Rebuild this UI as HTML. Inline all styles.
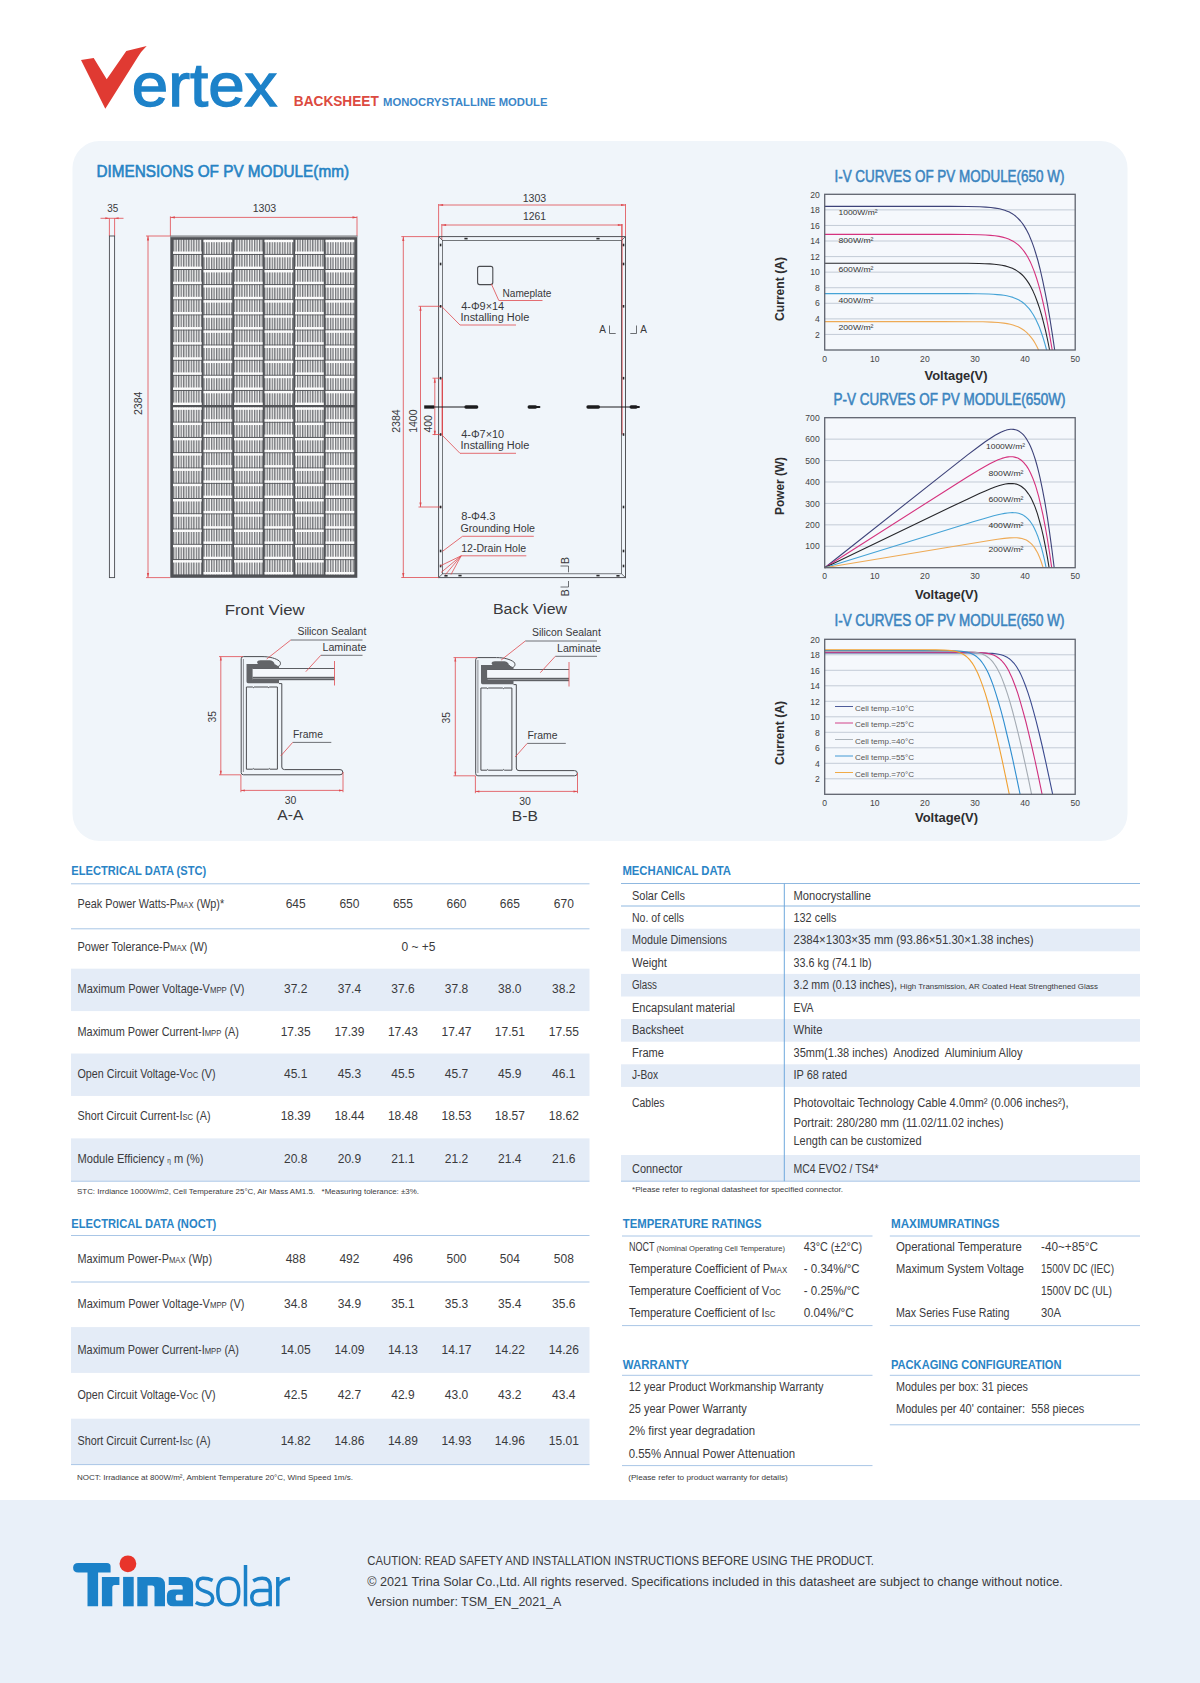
<!DOCTYPE html>
<html lang="en">
<head>
<meta charset="utf-8">
<title>Vertex Backsheet Monocrystalline Module</title>
<style>
html,body{margin:0;padding:0;background:#fff;}
body{width:1200px;height:1683px;overflow:hidden;font-family:"Liberation Sans",sans-serif;}
svg{display:block;font-family:"Liberation Sans",sans-serif;}
svg text{white-space:pre;}
</style>
</head>
<body>
<svg width="1200" height="1683" viewBox="0 0 1200 1683" font-family="Liberation Sans, sans-serif" font-size="12" fill="#3a3a3c">
<path d="M81,60 L93.7,57.9 L106.7,79.3 L126.3,51 L146.7,46.1 Q141,51.5 137.7,57.3 L105.3,108.7 Z" fill="#e03a32"/>
<text x="131.8" y="106.4" font-size="61" fill="#1d82c9" textLength="145.5" lengthAdjust="spacingAndGlyphs" stroke="#1d82c9" stroke-width="1.3">ertex</text>
<text x="293.8" y="105.8" font-size="14.5" font-weight="bold" fill="#dc4a40" textLength="85" lengthAdjust="spacingAndGlyphs">BACKSHEET</text>
<text x="383" y="105.8" font-size="11.8" font-weight="bold" fill="#3b86c8" textLength="164.5" lengthAdjust="spacingAndGlyphs">MONOCRYSTALLINE MODULE</text>
<rect x="72.5" y="141" width="1055" height="700" rx="27" ry="27" fill="#f0f5fa"/>
<text x="96.5" y="176.8" font-size="16.4" fill="#2683c4" textLength="252.5" lengthAdjust="spacingAndGlyphs" stroke="#2683c4" stroke-width="0.6">DIMENSIONS OF PV MODULE(mm)</text>
<text x="112.7" y="212.1" font-size="10" fill="#38383a" text-anchor="middle" textLength="11" lengthAdjust="spacingAndGlyphs">35</text>
<line x1="100.5" y1="218.3" x2="123.5" y2="218.3" stroke="#df4a4f" stroke-width="0.8" />
<polygon points="109.3,218.3 105.3,217.3 105.3,219.3" fill="#df4a4f"/><polygon points="114.6,218.3 118.6,217.3 118.6,219.3" fill="#df4a4f"/><line x1="109.4" y1="218.3" x2="109.4" y2="236" stroke="#df4a4f" stroke-width="0.8" />
<line x1="114.6" y1="218.3" x2="114.6" y2="236" stroke="#df4a4f" stroke-width="0.8" />
<rect x="109.4" y="236" width="5.2" height="341.6" fill="#f4f7fb" stroke="#4a4c50" stroke-width="0.9"/>
<text x="264.5" y="212.1" font-size="10" fill="#38383a" text-anchor="middle" textLength="23.5" lengthAdjust="spacingAndGlyphs">1303</text>
<line x1="170.4" y1="217.4" x2="357" y2="217.4" stroke="#df4a4f" stroke-width="0.8" />
<polygon points="170.4,217.4 174.9,216.3 174.9,218.5" fill="#df4a4f"/><polygon points="357,217.4 352.5,216.3 352.5,218.5" fill="#df4a4f"/>
<line x1="170.4" y1="216.4" x2="170.4" y2="236" stroke="#df4a4f" stroke-width="0.8" />
<line x1="357" y1="216.4" x2="357" y2="236" stroke="#df4a4f" stroke-width="0.8" />
<line x1="148" y1="236" x2="148" y2="577.6" stroke="#df4a4f" stroke-width="0.8" />
<polygon points="148,236 146.9,240.5 149.1,240.5" fill="#df4a4f"/><polygon points="148,577.6 146.9,573.1 149.1,573.1" fill="#df4a4f"/>
<line x1="146" y1="236" x2="170.3" y2="236" stroke="#df4a4f" stroke-width="0.8" />
<line x1="146" y1="577.6" x2="170.3" y2="577.6" stroke="#df4a4f" stroke-width="0.8" />
<text transform="translate(141.9,403.3) rotate(-90)" font-size="11.2" text-anchor="middle" fill="#38383a" textLength="23.5" lengthAdjust="spacingAndGlyphs">2384</text>
<defs><pattern id="hatch" x="173" y="0" width="2.53" height="10" patternUnits="userSpaceOnUse"><rect width="2.53" height="10" fill="#f6f6f6"/><rect x="0" width="1.3" height="10" fill="#727478"/></pattern></defs>
<rect x="170.3" y="235.7" width="187" height="342.1" fill="#505256" />
<rect x="170.3" y="235.7" width="187" height="1.6" fill="#9b9da0" />
<rect x="173.00" y="239.80" width="28.70" height="14.11" fill="url(#hatch)"/><rect x="173.00" y="251.51" width="28.70" height="2.4" fill="#fbfbfb"/><rect x="173.00" y="254.91" width="28.70" height="14.11" fill="url(#hatch)"/><rect x="173.00" y="266.62" width="28.70" height="2.4" fill="#fbfbfb"/><rect x="173.00" y="270.02" width="28.70" height="14.11" fill="url(#hatch)"/><rect x="173.00" y="281.73" width="28.70" height="2.4" fill="#fbfbfb"/><rect x="173.00" y="285.13" width="28.70" height="14.11" fill="url(#hatch)"/><rect x="173.00" y="296.84" width="28.70" height="2.4" fill="#fbfbfb"/><rect x="173.00" y="300.24" width="28.70" height="14.11" fill="url(#hatch)"/><rect x="173.00" y="311.95" width="28.70" height="2.4" fill="#fbfbfb"/><rect x="173.00" y="315.35" width="28.70" height="14.11" fill="url(#hatch)"/><rect x="173.00" y="327.05" width="28.70" height="2.4" fill="#fbfbfb"/><rect x="173.00" y="330.45" width="28.70" height="14.11" fill="url(#hatch)"/><rect x="173.00" y="342.16" width="28.70" height="2.4" fill="#fbfbfb"/><rect x="173.00" y="345.56" width="28.70" height="14.11" fill="url(#hatch)"/><rect x="173.00" y="357.27" width="28.70" height="2.4" fill="#fbfbfb"/><rect x="173.00" y="360.67" width="28.70" height="14.11" fill="url(#hatch)"/><rect x="173.00" y="372.38" width="28.70" height="2.4" fill="#fbfbfb"/><rect x="173.00" y="375.78" width="28.70" height="14.11" fill="url(#hatch)"/><rect x="173.00" y="387.49" width="28.70" height="2.4" fill="#fbfbfb"/><rect x="173.00" y="390.89" width="28.70" height="14.11" fill="url(#hatch)"/><rect x="173.00" y="402.60" width="28.70" height="2.4" fill="#fbfbfb"/><rect x="173.00" y="407.40" width="28.70" height="14.27" fill="url(#hatch)"/><rect x="173.00" y="407.40" width="28.70" height="2.4" fill="#fbfbfb"/><rect x="173.00" y="422.67" width="28.70" height="14.27" fill="url(#hatch)"/><rect x="173.00" y="422.67" width="28.70" height="2.4" fill="#fbfbfb"/><rect x="173.00" y="437.95" width="28.70" height="14.27" fill="url(#hatch)"/><rect x="173.00" y="437.95" width="28.70" height="2.4" fill="#fbfbfb"/><rect x="173.00" y="453.22" width="28.70" height="14.27" fill="url(#hatch)"/><rect x="173.00" y="453.22" width="28.70" height="2.4" fill="#fbfbfb"/><rect x="173.00" y="468.49" width="28.70" height="14.27" fill="url(#hatch)"/><rect x="173.00" y="468.49" width="28.70" height="2.4" fill="#fbfbfb"/><rect x="173.00" y="483.76" width="28.70" height="14.27" fill="url(#hatch)"/><rect x="173.00" y="483.76" width="28.70" height="2.4" fill="#fbfbfb"/><rect x="173.00" y="499.04" width="28.70" height="14.27" fill="url(#hatch)"/><rect x="173.00" y="499.04" width="28.70" height="2.4" fill="#fbfbfb"/><rect x="173.00" y="514.31" width="28.70" height="14.27" fill="url(#hatch)"/><rect x="173.00" y="514.31" width="28.70" height="2.4" fill="#fbfbfb"/><rect x="173.00" y="529.58" width="28.70" height="14.27" fill="url(#hatch)"/><rect x="173.00" y="529.58" width="28.70" height="2.4" fill="#fbfbfb"/><rect x="173.00" y="544.85" width="28.70" height="14.27" fill="url(#hatch)"/><rect x="173.00" y="544.85" width="28.70" height="2.4" fill="#fbfbfb"/><rect x="173.00" y="560.13" width="28.70" height="14.27" fill="url(#hatch)"/><rect x="173.00" y="560.13" width="28.70" height="2.4" fill="#fbfbfb"/>
<rect x="203.50" y="239.80" width="28.70" height="14.11" fill="url(#hatch)"/><rect x="203.50" y="239.80" width="28.70" height="2.4" fill="#fbfbfb"/><rect x="203.50" y="254.91" width="28.70" height="14.11" fill="url(#hatch)"/><rect x="203.50" y="254.91" width="28.70" height="2.4" fill="#fbfbfb"/><rect x="203.50" y="270.02" width="28.70" height="14.11" fill="url(#hatch)"/><rect x="203.50" y="270.02" width="28.70" height="2.4" fill="#fbfbfb"/><rect x="203.50" y="285.13" width="28.70" height="14.11" fill="url(#hatch)"/><rect x="203.50" y="285.13" width="28.70" height="2.4" fill="#fbfbfb"/><rect x="203.50" y="300.24" width="28.70" height="14.11" fill="url(#hatch)"/><rect x="203.50" y="300.24" width="28.70" height="2.4" fill="#fbfbfb"/><rect x="203.50" y="315.35" width="28.70" height="14.11" fill="url(#hatch)"/><rect x="203.50" y="315.35" width="28.70" height="2.4" fill="#fbfbfb"/><rect x="203.50" y="330.45" width="28.70" height="14.11" fill="url(#hatch)"/><rect x="203.50" y="330.45" width="28.70" height="2.4" fill="#fbfbfb"/><rect x="203.50" y="345.56" width="28.70" height="14.11" fill="url(#hatch)"/><rect x="203.50" y="345.56" width="28.70" height="2.4" fill="#fbfbfb"/><rect x="203.50" y="360.67" width="28.70" height="14.11" fill="url(#hatch)"/><rect x="203.50" y="360.67" width="28.70" height="2.4" fill="#fbfbfb"/><rect x="203.50" y="375.78" width="28.70" height="14.11" fill="url(#hatch)"/><rect x="203.50" y="375.78" width="28.70" height="2.4" fill="#fbfbfb"/><rect x="203.50" y="390.89" width="28.70" height="14.11" fill="url(#hatch)"/><rect x="203.50" y="390.89" width="28.70" height="2.4" fill="#fbfbfb"/><rect x="203.50" y="407.40" width="28.70" height="14.27" fill="url(#hatch)"/><rect x="203.50" y="419.27" width="28.70" height="2.4" fill="#fbfbfb"/><rect x="203.50" y="422.67" width="28.70" height="14.27" fill="url(#hatch)"/><rect x="203.50" y="434.55" width="28.70" height="2.4" fill="#fbfbfb"/><rect x="203.50" y="437.95" width="28.70" height="14.27" fill="url(#hatch)"/><rect x="203.50" y="449.82" width="28.70" height="2.4" fill="#fbfbfb"/><rect x="203.50" y="453.22" width="28.70" height="14.27" fill="url(#hatch)"/><rect x="203.50" y="465.09" width="28.70" height="2.4" fill="#fbfbfb"/><rect x="203.50" y="468.49" width="28.70" height="14.27" fill="url(#hatch)"/><rect x="203.50" y="480.36" width="28.70" height="2.4" fill="#fbfbfb"/><rect x="203.50" y="483.76" width="28.70" height="14.27" fill="url(#hatch)"/><rect x="203.50" y="495.64" width="28.70" height="2.4" fill="#fbfbfb"/><rect x="203.50" y="499.04" width="28.70" height="14.27" fill="url(#hatch)"/><rect x="203.50" y="510.91" width="28.70" height="2.4" fill="#fbfbfb"/><rect x="203.50" y="514.31" width="28.70" height="14.27" fill="url(#hatch)"/><rect x="203.50" y="526.18" width="28.70" height="2.4" fill="#fbfbfb"/><rect x="203.50" y="529.58" width="28.70" height="14.27" fill="url(#hatch)"/><rect x="203.50" y="541.45" width="28.70" height="2.4" fill="#fbfbfb"/><rect x="203.50" y="544.85" width="28.70" height="14.27" fill="url(#hatch)"/><rect x="203.50" y="556.73" width="28.70" height="2.4" fill="#fbfbfb"/><rect x="203.50" y="560.13" width="28.70" height="14.27" fill="url(#hatch)"/><rect x="203.50" y="572.00" width="28.70" height="2.4" fill="#fbfbfb"/>
<rect x="234.00" y="239.80" width="28.70" height="14.11" fill="url(#hatch)"/><rect x="234.00" y="251.51" width="28.70" height="2.4" fill="#fbfbfb"/><rect x="234.00" y="254.91" width="28.70" height="14.11" fill="url(#hatch)"/><rect x="234.00" y="266.62" width="28.70" height="2.4" fill="#fbfbfb"/><rect x="234.00" y="270.02" width="28.70" height="14.11" fill="url(#hatch)"/><rect x="234.00" y="281.73" width="28.70" height="2.4" fill="#fbfbfb"/><rect x="234.00" y="285.13" width="28.70" height="14.11" fill="url(#hatch)"/><rect x="234.00" y="296.84" width="28.70" height="2.4" fill="#fbfbfb"/><rect x="234.00" y="300.24" width="28.70" height="14.11" fill="url(#hatch)"/><rect x="234.00" y="311.95" width="28.70" height="2.4" fill="#fbfbfb"/><rect x="234.00" y="315.35" width="28.70" height="14.11" fill="url(#hatch)"/><rect x="234.00" y="327.05" width="28.70" height="2.4" fill="#fbfbfb"/><rect x="234.00" y="330.45" width="28.70" height="14.11" fill="url(#hatch)"/><rect x="234.00" y="342.16" width="28.70" height="2.4" fill="#fbfbfb"/><rect x="234.00" y="345.56" width="28.70" height="14.11" fill="url(#hatch)"/><rect x="234.00" y="357.27" width="28.70" height="2.4" fill="#fbfbfb"/><rect x="234.00" y="360.67" width="28.70" height="14.11" fill="url(#hatch)"/><rect x="234.00" y="372.38" width="28.70" height="2.4" fill="#fbfbfb"/><rect x="234.00" y="375.78" width="28.70" height="14.11" fill="url(#hatch)"/><rect x="234.00" y="387.49" width="28.70" height="2.4" fill="#fbfbfb"/><rect x="234.00" y="390.89" width="28.70" height="14.11" fill="url(#hatch)"/><rect x="234.00" y="402.60" width="28.70" height="2.4" fill="#fbfbfb"/><rect x="234.00" y="407.40" width="28.70" height="14.27" fill="url(#hatch)"/><rect x="234.00" y="407.40" width="28.70" height="2.4" fill="#fbfbfb"/><rect x="234.00" y="422.67" width="28.70" height="14.27" fill="url(#hatch)"/><rect x="234.00" y="422.67" width="28.70" height="2.4" fill="#fbfbfb"/><rect x="234.00" y="437.95" width="28.70" height="14.27" fill="url(#hatch)"/><rect x="234.00" y="437.95" width="28.70" height="2.4" fill="#fbfbfb"/><rect x="234.00" y="453.22" width="28.70" height="14.27" fill="url(#hatch)"/><rect x="234.00" y="453.22" width="28.70" height="2.4" fill="#fbfbfb"/><rect x="234.00" y="468.49" width="28.70" height="14.27" fill="url(#hatch)"/><rect x="234.00" y="468.49" width="28.70" height="2.4" fill="#fbfbfb"/><rect x="234.00" y="483.76" width="28.70" height="14.27" fill="url(#hatch)"/><rect x="234.00" y="483.76" width="28.70" height="2.4" fill="#fbfbfb"/><rect x="234.00" y="499.04" width="28.70" height="14.27" fill="url(#hatch)"/><rect x="234.00" y="499.04" width="28.70" height="2.4" fill="#fbfbfb"/><rect x="234.00" y="514.31" width="28.70" height="14.27" fill="url(#hatch)"/><rect x="234.00" y="514.31" width="28.70" height="2.4" fill="#fbfbfb"/><rect x="234.00" y="529.58" width="28.70" height="14.27" fill="url(#hatch)"/><rect x="234.00" y="529.58" width="28.70" height="2.4" fill="#fbfbfb"/><rect x="234.00" y="544.85" width="28.70" height="14.27" fill="url(#hatch)"/><rect x="234.00" y="544.85" width="28.70" height="2.4" fill="#fbfbfb"/><rect x="234.00" y="560.13" width="28.70" height="14.27" fill="url(#hatch)"/><rect x="234.00" y="560.13" width="28.70" height="2.4" fill="#fbfbfb"/>
<rect x="264.50" y="239.80" width="28.70" height="14.11" fill="url(#hatch)"/><rect x="264.50" y="239.80" width="28.70" height="2.4" fill="#fbfbfb"/><rect x="264.50" y="254.91" width="28.70" height="14.11" fill="url(#hatch)"/><rect x="264.50" y="254.91" width="28.70" height="2.4" fill="#fbfbfb"/><rect x="264.50" y="270.02" width="28.70" height="14.11" fill="url(#hatch)"/><rect x="264.50" y="270.02" width="28.70" height="2.4" fill="#fbfbfb"/><rect x="264.50" y="285.13" width="28.70" height="14.11" fill="url(#hatch)"/><rect x="264.50" y="285.13" width="28.70" height="2.4" fill="#fbfbfb"/><rect x="264.50" y="300.24" width="28.70" height="14.11" fill="url(#hatch)"/><rect x="264.50" y="300.24" width="28.70" height="2.4" fill="#fbfbfb"/><rect x="264.50" y="315.35" width="28.70" height="14.11" fill="url(#hatch)"/><rect x="264.50" y="315.35" width="28.70" height="2.4" fill="#fbfbfb"/><rect x="264.50" y="330.45" width="28.70" height="14.11" fill="url(#hatch)"/><rect x="264.50" y="330.45" width="28.70" height="2.4" fill="#fbfbfb"/><rect x="264.50" y="345.56" width="28.70" height="14.11" fill="url(#hatch)"/><rect x="264.50" y="345.56" width="28.70" height="2.4" fill="#fbfbfb"/><rect x="264.50" y="360.67" width="28.70" height="14.11" fill="url(#hatch)"/><rect x="264.50" y="360.67" width="28.70" height="2.4" fill="#fbfbfb"/><rect x="264.50" y="375.78" width="28.70" height="14.11" fill="url(#hatch)"/><rect x="264.50" y="375.78" width="28.70" height="2.4" fill="#fbfbfb"/><rect x="264.50" y="390.89" width="28.70" height="14.11" fill="url(#hatch)"/><rect x="264.50" y="390.89" width="28.70" height="2.4" fill="#fbfbfb"/><rect x="264.50" y="407.40" width="28.70" height="14.27" fill="url(#hatch)"/><rect x="264.50" y="419.27" width="28.70" height="2.4" fill="#fbfbfb"/><rect x="264.50" y="422.67" width="28.70" height="14.27" fill="url(#hatch)"/><rect x="264.50" y="434.55" width="28.70" height="2.4" fill="#fbfbfb"/><rect x="264.50" y="437.95" width="28.70" height="14.27" fill="url(#hatch)"/><rect x="264.50" y="449.82" width="28.70" height="2.4" fill="#fbfbfb"/><rect x="264.50" y="453.22" width="28.70" height="14.27" fill="url(#hatch)"/><rect x="264.50" y="465.09" width="28.70" height="2.4" fill="#fbfbfb"/><rect x="264.50" y="468.49" width="28.70" height="14.27" fill="url(#hatch)"/><rect x="264.50" y="480.36" width="28.70" height="2.4" fill="#fbfbfb"/><rect x="264.50" y="483.76" width="28.70" height="14.27" fill="url(#hatch)"/><rect x="264.50" y="495.64" width="28.70" height="2.4" fill="#fbfbfb"/><rect x="264.50" y="499.04" width="28.70" height="14.27" fill="url(#hatch)"/><rect x="264.50" y="510.91" width="28.70" height="2.4" fill="#fbfbfb"/><rect x="264.50" y="514.31" width="28.70" height="14.27" fill="url(#hatch)"/><rect x="264.50" y="526.18" width="28.70" height="2.4" fill="#fbfbfb"/><rect x="264.50" y="529.58" width="28.70" height="14.27" fill="url(#hatch)"/><rect x="264.50" y="541.45" width="28.70" height="2.4" fill="#fbfbfb"/><rect x="264.50" y="544.85" width="28.70" height="14.27" fill="url(#hatch)"/><rect x="264.50" y="556.73" width="28.70" height="2.4" fill="#fbfbfb"/><rect x="264.50" y="560.13" width="28.70" height="14.27" fill="url(#hatch)"/><rect x="264.50" y="572.00" width="28.70" height="2.4" fill="#fbfbfb"/>
<rect x="295.00" y="239.80" width="28.70" height="14.11" fill="url(#hatch)"/><rect x="295.00" y="251.51" width="28.70" height="2.4" fill="#fbfbfb"/><rect x="295.00" y="254.91" width="28.70" height="14.11" fill="url(#hatch)"/><rect x="295.00" y="266.62" width="28.70" height="2.4" fill="#fbfbfb"/><rect x="295.00" y="270.02" width="28.70" height="14.11" fill="url(#hatch)"/><rect x="295.00" y="281.73" width="28.70" height="2.4" fill="#fbfbfb"/><rect x="295.00" y="285.13" width="28.70" height="14.11" fill="url(#hatch)"/><rect x="295.00" y="296.84" width="28.70" height="2.4" fill="#fbfbfb"/><rect x="295.00" y="300.24" width="28.70" height="14.11" fill="url(#hatch)"/><rect x="295.00" y="311.95" width="28.70" height="2.4" fill="#fbfbfb"/><rect x="295.00" y="315.35" width="28.70" height="14.11" fill="url(#hatch)"/><rect x="295.00" y="327.05" width="28.70" height="2.4" fill="#fbfbfb"/><rect x="295.00" y="330.45" width="28.70" height="14.11" fill="url(#hatch)"/><rect x="295.00" y="342.16" width="28.70" height="2.4" fill="#fbfbfb"/><rect x="295.00" y="345.56" width="28.70" height="14.11" fill="url(#hatch)"/><rect x="295.00" y="357.27" width="28.70" height="2.4" fill="#fbfbfb"/><rect x="295.00" y="360.67" width="28.70" height="14.11" fill="url(#hatch)"/><rect x="295.00" y="372.38" width="28.70" height="2.4" fill="#fbfbfb"/><rect x="295.00" y="375.78" width="28.70" height="14.11" fill="url(#hatch)"/><rect x="295.00" y="387.49" width="28.70" height="2.4" fill="#fbfbfb"/><rect x="295.00" y="390.89" width="28.70" height="14.11" fill="url(#hatch)"/><rect x="295.00" y="402.60" width="28.70" height="2.4" fill="#fbfbfb"/><rect x="295.00" y="407.40" width="28.70" height="14.27" fill="url(#hatch)"/><rect x="295.00" y="407.40" width="28.70" height="2.4" fill="#fbfbfb"/><rect x="295.00" y="422.67" width="28.70" height="14.27" fill="url(#hatch)"/><rect x="295.00" y="422.67" width="28.70" height="2.4" fill="#fbfbfb"/><rect x="295.00" y="437.95" width="28.70" height="14.27" fill="url(#hatch)"/><rect x="295.00" y="437.95" width="28.70" height="2.4" fill="#fbfbfb"/><rect x="295.00" y="453.22" width="28.70" height="14.27" fill="url(#hatch)"/><rect x="295.00" y="453.22" width="28.70" height="2.4" fill="#fbfbfb"/><rect x="295.00" y="468.49" width="28.70" height="14.27" fill="url(#hatch)"/><rect x="295.00" y="468.49" width="28.70" height="2.4" fill="#fbfbfb"/><rect x="295.00" y="483.76" width="28.70" height="14.27" fill="url(#hatch)"/><rect x="295.00" y="483.76" width="28.70" height="2.4" fill="#fbfbfb"/><rect x="295.00" y="499.04" width="28.70" height="14.27" fill="url(#hatch)"/><rect x="295.00" y="499.04" width="28.70" height="2.4" fill="#fbfbfb"/><rect x="295.00" y="514.31" width="28.70" height="14.27" fill="url(#hatch)"/><rect x="295.00" y="514.31" width="28.70" height="2.4" fill="#fbfbfb"/><rect x="295.00" y="529.58" width="28.70" height="14.27" fill="url(#hatch)"/><rect x="295.00" y="529.58" width="28.70" height="2.4" fill="#fbfbfb"/><rect x="295.00" y="544.85" width="28.70" height="14.27" fill="url(#hatch)"/><rect x="295.00" y="544.85" width="28.70" height="2.4" fill="#fbfbfb"/><rect x="295.00" y="560.13" width="28.70" height="14.27" fill="url(#hatch)"/><rect x="295.00" y="560.13" width="28.70" height="2.4" fill="#fbfbfb"/>
<rect x="325.50" y="239.80" width="28.70" height="14.11" fill="url(#hatch)"/><rect x="325.50" y="239.80" width="28.70" height="2.4" fill="#fbfbfb"/><rect x="325.50" y="254.91" width="28.70" height="14.11" fill="url(#hatch)"/><rect x="325.50" y="254.91" width="28.70" height="2.4" fill="#fbfbfb"/><rect x="325.50" y="270.02" width="28.70" height="14.11" fill="url(#hatch)"/><rect x="325.50" y="270.02" width="28.70" height="2.4" fill="#fbfbfb"/><rect x="325.50" y="285.13" width="28.70" height="14.11" fill="url(#hatch)"/><rect x="325.50" y="285.13" width="28.70" height="2.4" fill="#fbfbfb"/><rect x="325.50" y="300.24" width="28.70" height="14.11" fill="url(#hatch)"/><rect x="325.50" y="300.24" width="28.70" height="2.4" fill="#fbfbfb"/><rect x="325.50" y="315.35" width="28.70" height="14.11" fill="url(#hatch)"/><rect x="325.50" y="315.35" width="28.70" height="2.4" fill="#fbfbfb"/><rect x="325.50" y="330.45" width="28.70" height="14.11" fill="url(#hatch)"/><rect x="325.50" y="330.45" width="28.70" height="2.4" fill="#fbfbfb"/><rect x="325.50" y="345.56" width="28.70" height="14.11" fill="url(#hatch)"/><rect x="325.50" y="345.56" width="28.70" height="2.4" fill="#fbfbfb"/><rect x="325.50" y="360.67" width="28.70" height="14.11" fill="url(#hatch)"/><rect x="325.50" y="360.67" width="28.70" height="2.4" fill="#fbfbfb"/><rect x="325.50" y="375.78" width="28.70" height="14.11" fill="url(#hatch)"/><rect x="325.50" y="375.78" width="28.70" height="2.4" fill="#fbfbfb"/><rect x="325.50" y="390.89" width="28.70" height="14.11" fill="url(#hatch)"/><rect x="325.50" y="390.89" width="28.70" height="2.4" fill="#fbfbfb"/><rect x="325.50" y="407.40" width="28.70" height="14.27" fill="url(#hatch)"/><rect x="325.50" y="419.27" width="28.70" height="2.4" fill="#fbfbfb"/><rect x="325.50" y="422.67" width="28.70" height="14.27" fill="url(#hatch)"/><rect x="325.50" y="434.55" width="28.70" height="2.4" fill="#fbfbfb"/><rect x="325.50" y="437.95" width="28.70" height="14.27" fill="url(#hatch)"/><rect x="325.50" y="449.82" width="28.70" height="2.4" fill="#fbfbfb"/><rect x="325.50" y="453.22" width="28.70" height="14.27" fill="url(#hatch)"/><rect x="325.50" y="465.09" width="28.70" height="2.4" fill="#fbfbfb"/><rect x="325.50" y="468.49" width="28.70" height="14.27" fill="url(#hatch)"/><rect x="325.50" y="480.36" width="28.70" height="2.4" fill="#fbfbfb"/><rect x="325.50" y="483.76" width="28.70" height="14.27" fill="url(#hatch)"/><rect x="325.50" y="495.64" width="28.70" height="2.4" fill="#fbfbfb"/><rect x="325.50" y="499.04" width="28.70" height="14.27" fill="url(#hatch)"/><rect x="325.50" y="510.91" width="28.70" height="2.4" fill="#fbfbfb"/><rect x="325.50" y="514.31" width="28.70" height="14.27" fill="url(#hatch)"/><rect x="325.50" y="526.18" width="28.70" height="2.4" fill="#fbfbfb"/><rect x="325.50" y="529.58" width="28.70" height="14.27" fill="url(#hatch)"/><rect x="325.50" y="541.45" width="28.70" height="2.4" fill="#fbfbfb"/><rect x="325.50" y="544.85" width="28.70" height="14.27" fill="url(#hatch)"/><rect x="325.50" y="556.73" width="28.70" height="2.4" fill="#fbfbfb"/><rect x="325.50" y="560.13" width="28.70" height="14.27" fill="url(#hatch)"/><rect x="325.50" y="572.00" width="28.70" height="2.4" fill="#fbfbfb"/>
<text x="264.7" y="614.5" font-size="14" fill="#38383a" text-anchor="middle" textLength="80" lengthAdjust="spacingAndGlyphs">Front View</text>
<text x="534.5" y="202.1" font-size="10" fill="#38383a" text-anchor="middle" textLength="23.5" lengthAdjust="spacingAndGlyphs">1303</text>
<text x="534.5" y="220.4" font-size="10" fill="#38383a" text-anchor="middle" textLength="23" lengthAdjust="spacingAndGlyphs">1261</text>
<line x1="438.6" y1="205" x2="625.5" y2="205" stroke="#df4a4f" stroke-width="0.8" />
<polygon points="438.6,205 443.1,203.9 443.1,206.1" fill="#df4a4f"/><polygon points="625.5,205 621,203.9 621,206.1" fill="#df4a4f"/>
<line x1="441.6" y1="225" x2="622.3" y2="225" stroke="#df4a4f" stroke-width="0.8" />
<polygon points="441.6,225 446.1,223.9 446.1,226.1" fill="#df4a4f"/><polygon points="622.3,225 617.8,223.9 617.8,226.1" fill="#df4a4f"/>
<line x1="438.6" y1="204" x2="438.6" y2="236.4" stroke="#df4a4f" stroke-width="0.8" />
<line x1="625.5" y1="204" x2="625.5" y2="236.4" stroke="#df4a4f" stroke-width="0.8" />
<line x1="441.8" y1="224" x2="441.8" y2="240" stroke="#df4a4f" stroke-width="0.8" />
<line x1="621.9" y1="224" x2="621.9" y2="434.5" stroke="#df4a4f" stroke-width="1.3" />
<rect x="438.6" y="236.6" width="186.9" height="341" fill="none" stroke="#4a4c50" stroke-width="0.95"/>
<rect x="442.6" y="240.4" width="178.8" height="333.4" fill="none" stroke="#4a4c50" stroke-width="0.75"/>
<path d="M438.6,236.6 l4,3.8 M625.5,236.6 l-4,3.8 M438.6,577.6 l4,-3.8 M625.5,577.6 l-4,-3.8" stroke="#4a4c50" stroke-width="0.8" fill="none"/>
<line x1="403.3" y1="236.6" x2="403.3" y2="577.5" stroke="#df4a4f" stroke-width="0.8" />
<polygon points="403.3,236.6 402.2,241.1 404.4,241.1" fill="#df4a4f"/><polygon points="403.3,577.5 402.2,573 404.4,573" fill="#df4a4f"/>
<line x1="401.3" y1="236.6" x2="438.6" y2="236.6" stroke="#df4a4f" stroke-width="0.8" />
<line x1="401.3" y1="577.5" x2="438.6" y2="577.5" stroke="#df4a4f" stroke-width="0.8" />
<line x1="420.5" y1="306.3" x2="420.5" y2="507" stroke="#df4a4f" stroke-width="0.8" />
<polygon points="420.5,306.3 419.4,310.8 421.6,310.8" fill="#df4a4f"/><polygon points="420.5,507 419.4,502.5 421.6,502.5" fill="#df4a4f"/>
<line x1="418.5" y1="306.3" x2="441.5" y2="306.3" stroke="#df4a4f" stroke-width="0.8" />
<line x1="418.5" y1="507" x2="441.5" y2="507" stroke="#df4a4f" stroke-width="0.8" />
<line x1="434.8" y1="378.2" x2="434.8" y2="435.2" stroke="#df4a4f" stroke-width="0.8" />
<polygon points="434.8,378.2 433.7,382.7 435.9,382.7" fill="#df4a4f"/><polygon points="434.8,435.2 433.7,430.7 435.9,430.7" fill="#df4a4f"/>
<line x1="432.5" y1="378.2" x2="441.5" y2="378.2" stroke="#df4a4f" stroke-width="0.8" />
<line x1="432.5" y1="434.5" x2="441.5" y2="434.5" stroke="#df4a4f" stroke-width="0.8" />
<line x1="442.3" y1="378.2" x2="442.3" y2="435.4" stroke="#df4a4f" stroke-width="1.3" />
<text transform="translate(399.5,421) rotate(-90)" font-size="11.2" text-anchor="middle" fill="#38383a" textLength="23.5" lengthAdjust="spacingAndGlyphs">2384</text>
<text transform="translate(417,421.2) rotate(-90)" font-size="11.2" text-anchor="middle" fill="#38383a" textLength="23.3" lengthAdjust="spacingAndGlyphs">1400</text>
<text transform="translate(431.7,423.8) rotate(-90)" font-size="11.2" text-anchor="middle" fill="#38383a" textLength="17.5" lengthAdjust="spacingAndGlyphs">400</text>
<rect x="439.8" y="243.7" width="1.6" height="2.6" fill="#2a2a2c"/><rect x="439.8" y="262.7" width="1.6" height="2.6" fill="#2a2a2c"/><rect x="439.8" y="305" width="1.6" height="2.6" fill="#2a2a2c"/><rect x="439.8" y="376.9" width="1.6" height="2.6" fill="#2a2a2c"/><rect x="439.8" y="433.2" width="1.6" height="2.6" fill="#2a2a2c"/><rect x="439.8" y="505.7" width="1.6" height="2.6" fill="#2a2a2c"/><rect x="439.8" y="549.7" width="1.6" height="2.6" fill="#2a2a2c"/><rect x="439.8" y="564.7" width="1.6" height="2.6" fill="#2a2a2c"/><rect x="622.7" y="243.7" width="1.6" height="2.6" fill="#2a2a2c"/><rect x="622.7" y="262.7" width="1.6" height="2.6" fill="#2a2a2c"/><rect x="622.7" y="305" width="1.6" height="2.6" fill="#2a2a2c"/><rect x="622.7" y="376.9" width="1.6" height="2.6" fill="#2a2a2c"/><rect x="622.7" y="433.2" width="1.6" height="2.6" fill="#2a2a2c"/><rect x="622.7" y="505.7" width="1.6" height="2.6" fill="#2a2a2c"/><rect x="622.7" y="549.7" width="1.6" height="2.6" fill="#2a2a2c"/><rect x="622.7" y="564.7" width="1.6" height="2.6" fill="#2a2a2c"/><rect x="464.4" y="237.8" width="3.2" height="1.6" fill="#2a2a2c"/><rect x="596.4" y="237.8" width="3.2" height="1.6" fill="#2a2a2c"/><rect x="458.4" y="574.8" width="3.2" height="1.6" fill="#2a2a2c"/><rect x="596.4" y="574.8" width="3.2" height="1.6" fill="#2a2a2c"/><rect x="444.4" y="575" width="3.2" height="1.6" fill="#2a2a2c"/><rect x="616.4" y="575" width="3.2" height="1.6" fill="#2a2a2c"/>
<rect x="477.6" y="266.4" width="15.2" height="18.2" rx="2" fill="none" stroke="#4a4c50" stroke-width="1.1"/>
<polyline points="491.3,283.8 498.8,300.5 542.5,300.5" fill="none" stroke="#df4a4f" stroke-width="0.8"/>
<text x="502.5" y="297" font-size="10" fill="#38383a" textLength="48.8" lengthAdjust="spacingAndGlyphs">Nameplate</text>
<text x="461.2" y="309.5" font-size="10" fill="#38383a" textLength="43" lengthAdjust="spacingAndGlyphs">4-Φ9×14</text>
<text x="460.5" y="321.3" font-size="10" fill="#38383a" textLength="68.8" lengthAdjust="spacingAndGlyphs">Installing Hole</text>
<polyline points="441.5,306.3 460,325 516,325" fill="none" stroke="#df4a4f" stroke-width="0.8"/>
<text x="599.3" y="333" font-size="10" fill="#38383a">A</text>
<text x="640.3" y="333" font-size="10" fill="#38383a">A</text>
<path d="M609.5,325.5 V333.5 H615.7 M630.3,333.5 H636.5 V325.5" fill="none" stroke="#4a4c50" stroke-width="0.8"/>
<g stroke="#1c1c1e"><line x1="425" y1="407" x2="477" y2="407" stroke-width="1.1"/><line x1="424.2" y1="407" x2="434.2" y2="407" stroke-width="3.3"/><line x1="466" y1="407" x2="476.7" y2="407" stroke-width="3.3" stroke-linecap="round"/><line x1="529.2" y1="407" x2="535.5" y2="407" stroke-width="3.3" stroke-linecap="round"/><line x1="535" y1="407" x2="539.5" y2="407" stroke-width="1.8" stroke-linecap="round"/><line x1="588" y1="407" x2="637" y2="407" stroke-width="1.1"/><line x1="588" y1="407" x2="598.4" y2="407" stroke-width="3.3" stroke-linecap="round"/><line x1="631.2" y1="407" x2="636" y2="407" stroke-width="3.3" stroke-linecap="round"/><line x1="636" y1="407" x2="639" y2="407" stroke-width="1.8" stroke-linecap="round"/></g>
<text x="461.2" y="437.5" font-size="10" fill="#38383a" textLength="43" lengthAdjust="spacingAndGlyphs">4-Φ7×10</text>
<text x="460.5" y="449.3" font-size="10" fill="#38383a" textLength="68.8" lengthAdjust="spacingAndGlyphs">Installing Hole</text>
<polyline points="441.5,434.5 460,453.3 516,453.3" fill="none" stroke="#df4a4f" stroke-width="0.8"/>
<text x="461.2" y="520" font-size="10" fill="#38383a" textLength="34.3" lengthAdjust="spacingAndGlyphs">8-Φ4.3</text>
<text x="460.5" y="532" font-size="10" fill="#38383a" textLength="74.5" lengthAdjust="spacingAndGlyphs">Grounding Hole</text>
<polyline points="442.5,551.3 462.5,536.3 533.8,536.3" fill="none" stroke="#df4a4f" stroke-width="0.8"/>
<text x="461.2" y="552" font-size="10" fill="#38383a" textLength="65" lengthAdjust="spacingAndGlyphs">12-Drain Hole</text>
<path d="M526.3,555.8 H461.2 L440,566 M461.2,555.8 L441,572.5 M461.2,555.8 L445.5,574.5 M461.2,555.8 L451,574.5" fill="none" stroke="#df4a4f" stroke-width="0.8"/>
<text transform="translate(569,560.5) rotate(-90)" font-size="11" text-anchor="middle" fill="#38383a" lengthAdjust="spacingAndGlyphs">B</text>
<text transform="translate(569,592.8) rotate(-90)" font-size="11" text-anchor="middle" fill="#38383a" lengthAdjust="spacingAndGlyphs">B</text>
<path d="M560.5,566 H568.5 V572.3 M568.5,581 V587 H560.5" fill="none" stroke="#4a4c50" stroke-width="0.8"/>
<text x="530" y="614.3" font-size="14" fill="#38383a" text-anchor="middle" textLength="74" lengthAdjust="spacingAndGlyphs">Back View</text>
<g transform="translate(0,0)">
<rect x="252.5" y="668.5" width="82" height="11.3" fill="#f4f7fb"/><line x1="252.5" y1="668.5" x2="334.5" y2="668.5" stroke="#4a4c50" stroke-width="0.9" />
<rect x="252.5" y="676.8" width="82" height="3.4" fill="#5e6064"/><line x1="253" y1="678.5" x2="334.5" y2="678.5" stroke="#b9bbbf" stroke-width="0.6" />
<line x1="334.5" y1="661" x2="334.5" y2="685.5" stroke="#df4a4f" stroke-width="0.8" />
<path d="M243.3,656.6 H262 C270,656.6 276,658.5 279.3,661 C281.5,663 280.5,666.6 277,666.6 L274.5,664.3 M243.3,656.6 Q241.2,656.6 241.2,658.8 V772.6 Q241.2,774.8 243.4,774.8 H340 Q342.8,774.8 342.8,772.2 Q342.8,769.6 340,769.6 H284.5 Q281.8,769.6 281.8,767 V683.6 H279" fill="none" stroke="#4a4c50" stroke-width="1"/>
<path d="M243.4,659 V772" fill="none" stroke="#4a4c50" stroke-width="0.6"/><path d="M246.4,687 H252.5 q0.8,1.4 1.6,0 H268 q0.8,1.4 1.6,0 H277.4 V769.2 H270 q-0.8,-1.4 -1.6,0 H254 q-0.8,-1.4 -1.6,0 H246.4 Z" fill="none" stroke="#4a4c50" stroke-width="1"/>
<path d="M246.5,664 H258 C256,662 257.5,660.2 260.5,660.2 H270 C273,660.6 274.6,662.5 274.4,664.2 L279,666.4 V668.4 H252.6 V679.6 H279 V683.2 H248 Q246.5,683.2 246.5,681.6 Z" fill="#626468"/>
<text x="297.5" y="634.7" font-size="10" fill="#38383a" textLength="68.8" lengthAdjust="spacingAndGlyphs">Silicon Sealant</text>
<line x1="290.8" y1="640" x2="362.5" y2="640" stroke="#606266" stroke-width="0.9" />
<line x1="290.8" y1="640" x2="266.7" y2="659" stroke="#df4a4f" stroke-width="0.8" />
<text x="322.5" y="650.8" font-size="10" fill="#38383a" textLength="43.8" lengthAdjust="spacingAndGlyphs">Laminate</text>
<line x1="320.8" y1="655.3" x2="362.5" y2="655.3" stroke="#606266" stroke-width="0.9" />
<line x1="320.8" y1="655.3" x2="305.8" y2="671.7" stroke="#df4a4f" stroke-width="0.8" />
<text x="293" y="738" font-size="10" fill="#38383a" textLength="30" lengthAdjust="spacingAndGlyphs">Frame</text>
<line x1="292.7" y1="742.4" x2="331.3" y2="742.4" stroke="#606266" stroke-width="0.9" />
<line x1="292.7" y1="742.4" x2="280.7" y2="756" stroke="#df4a4f" stroke-width="0.8" />
<line x1="220.8" y1="656.6" x2="220.8" y2="774.8" stroke="#df4a4f" stroke-width="0.8" />
<polygon points="220.8,656.6 219.8,660.6 221.8,660.6" fill="#df4a4f"/><polygon points="220.8,774.8 219.8,770.8 221.8,770.8" fill="#df4a4f"/><line x1="219" y1="656.6" x2="243" y2="656.6" stroke="#df4a4f" stroke-width="0.8" />
<line x1="219" y1="774.8" x2="241" y2="774.8" stroke="#df4a4f" stroke-width="0.8" />
<line x1="240.9" y1="790.4" x2="343" y2="790.4" stroke="#df4a4f" stroke-width="0.8" />
<polygon points="240.9,790.4 244.9,789.4 244.9,791.4" fill="#df4a4f"/><polygon points="343,790.4 339,789.4 339,791.4" fill="#df4a4f"/><line x1="240.9" y1="775" x2="240.9" y2="792.2" stroke="#df4a4f" stroke-width="0.8" />
<line x1="343" y1="772" x2="343" y2="792.2" stroke="#df4a4f" stroke-width="0.8" />
<text transform="translate(215.8,716.7) rotate(-90)" font-size="11" text-anchor="middle" fill="#38383a" textLength="11.5" lengthAdjust="spacingAndGlyphs">35</text>
<text x="290.5" y="803.7" font-size="10" fill="#38383a" text-anchor="middle" textLength="11.6" lengthAdjust="spacingAndGlyphs">30</text>
<text x="290.3" y="820" font-size="14" fill="#38383a" text-anchor="middle" textLength="26" lengthAdjust="spacingAndGlyphs">A-A</text>
</g>
<g transform="translate(234.5,1)">
<rect x="252.5" y="668.5" width="82" height="11.3" fill="#f4f7fb"/><line x1="252.5" y1="668.5" x2="334.5" y2="668.5" stroke="#4a4c50" stroke-width="0.9" />
<rect x="252.5" y="676.8" width="82" height="3.4" fill="#5e6064"/><line x1="253" y1="678.5" x2="334.5" y2="678.5" stroke="#b9bbbf" stroke-width="0.6" />
<line x1="334.5" y1="661" x2="334.5" y2="685.5" stroke="#df4a4f" stroke-width="0.8" />
<path d="M243.3,656.6 H262 C270,656.6 276,658.5 279.3,661 C281.5,663 280.5,666.6 277,666.6 L274.5,664.3 M243.3,656.6 Q241.2,656.6 241.2,658.8 V772.6 Q241.2,774.8 243.4,774.8 H340 Q342.8,774.8 342.8,772.2 Q342.8,769.6 340,769.6 H284.5 Q281.8,769.6 281.8,767 V683.6 H279" fill="none" stroke="#4a4c50" stroke-width="1"/>
<path d="M243.4,659 V772" fill="none" stroke="#4a4c50" stroke-width="0.6"/><path d="M246.4,687 H252.5 q0.8,1.4 1.6,0 H268 q0.8,1.4 1.6,0 H277.4 V769.2 H270 q-0.8,-1.4 -1.6,0 H254 q-0.8,-1.4 -1.6,0 H246.4 Z" fill="none" stroke="#4a4c50" stroke-width="1"/>
<path d="M246.5,664 H258 C256,662 257.5,660.2 260.5,660.2 H270 C273,660.6 274.6,662.5 274.4,664.2 L279,666.4 V668.4 H252.6 V679.6 H279 V683.2 H248 Q246.5,683.2 246.5,681.6 Z" fill="#626468"/>
<text x="297.5" y="634.7" font-size="10" fill="#38383a" textLength="68.8" lengthAdjust="spacingAndGlyphs">Silicon Sealant</text>
<line x1="290.8" y1="640" x2="362.5" y2="640" stroke="#606266" stroke-width="0.9" />
<line x1="290.8" y1="640" x2="266.7" y2="659" stroke="#df4a4f" stroke-width="0.8" />
<text x="322.5" y="650.8" font-size="10" fill="#38383a" textLength="43.8" lengthAdjust="spacingAndGlyphs">Laminate</text>
<line x1="320.8" y1="655.3" x2="362.5" y2="655.3" stroke="#606266" stroke-width="0.9" />
<line x1="320.8" y1="655.3" x2="305.8" y2="671.7" stroke="#df4a4f" stroke-width="0.8" />
<text x="293" y="738" font-size="10" fill="#38383a" textLength="30" lengthAdjust="spacingAndGlyphs">Frame</text>
<line x1="292.7" y1="742.4" x2="331.3" y2="742.4" stroke="#606266" stroke-width="0.9" />
<line x1="292.7" y1="742.4" x2="280.7" y2="756" stroke="#df4a4f" stroke-width="0.8" />
<line x1="220.8" y1="656.6" x2="220.8" y2="774.8" stroke="#df4a4f" stroke-width="0.8" />
<polygon points="220.8,656.6 219.8,660.6 221.8,660.6" fill="#df4a4f"/><polygon points="220.8,774.8 219.8,770.8 221.8,770.8" fill="#df4a4f"/><line x1="219" y1="656.6" x2="243" y2="656.6" stroke="#df4a4f" stroke-width="0.8" />
<line x1="219" y1="774.8" x2="241" y2="774.8" stroke="#df4a4f" stroke-width="0.8" />
<line x1="240.9" y1="790.4" x2="343" y2="790.4" stroke="#df4a4f" stroke-width="0.8" />
<polygon points="240.9,790.4 244.9,789.4 244.9,791.4" fill="#df4a4f"/><polygon points="343,790.4 339,789.4 339,791.4" fill="#df4a4f"/><line x1="240.9" y1="775" x2="240.9" y2="792.2" stroke="#df4a4f" stroke-width="0.8" />
<line x1="343" y1="772" x2="343" y2="792.2" stroke="#df4a4f" stroke-width="0.8" />
<text transform="translate(215.8,716.7) rotate(-90)" font-size="11" text-anchor="middle" fill="#38383a" textLength="11.5" lengthAdjust="spacingAndGlyphs">35</text>
<text x="290.5" y="803.7" font-size="10" fill="#38383a" text-anchor="middle" textLength="11.6" lengthAdjust="spacingAndGlyphs">30</text>
<text x="290.3" y="820" font-size="14" fill="#38383a" text-anchor="middle" textLength="26" lengthAdjust="spacingAndGlyphs">B-B</text>
</g>
<text x="949.45" y="182.4" font-size="16.6" fill="#3a84bf" text-anchor="middle" textLength="230" lengthAdjust="spacingAndGlyphs" stroke="#3a84bf" stroke-width="0.55">I-V CURVES OF PV MODULE(650 W)</text>
<rect x="824.7" y="194.3" width="250.5" height="155.7" fill="#f5f8fc" />
<line x1="824.7" y1="334.43" x2="1075.2" y2="334.43" stroke="#c3cbd6" stroke-width="1" />
<text x="819.7" y="337.63" font-size="8.6" fill="#444" text-anchor="end">2</text>
<line x1="824.7" y1="318.86" x2="1075.2" y2="318.86" stroke="#c3cbd6" stroke-width="1" />
<text x="819.7" y="322.06" font-size="8.6" fill="#444" text-anchor="end">4</text>
<line x1="824.7" y1="303.29" x2="1075.2" y2="303.29" stroke="#c3cbd6" stroke-width="1" />
<text x="819.7" y="306.49" font-size="8.6" fill="#444" text-anchor="end">6</text>
<line x1="824.7" y1="287.72" x2="1075.2" y2="287.72" stroke="#c3cbd6" stroke-width="1" />
<text x="819.7" y="290.92" font-size="8.6" fill="#444" text-anchor="end">8</text>
<line x1="824.7" y1="272.15" x2="1075.2" y2="272.15" stroke="#c3cbd6" stroke-width="1" />
<text x="819.7" y="275.35" font-size="8.6" fill="#444" text-anchor="end">10</text>
<line x1="824.7" y1="256.58" x2="1075.2" y2="256.58" stroke="#c3cbd6" stroke-width="1" />
<text x="819.7" y="259.78" font-size="8.6" fill="#444" text-anchor="end">12</text>
<line x1="824.7" y1="241.01" x2="1075.2" y2="241.01" stroke="#c3cbd6" stroke-width="1" />
<text x="819.7" y="244.21" font-size="8.6" fill="#444" text-anchor="end">14</text>
<line x1="824.7" y1="225.44" x2="1075.2" y2="225.44" stroke="#c3cbd6" stroke-width="1" />
<text x="819.7" y="228.64" font-size="8.6" fill="#444" text-anchor="end">16</text>
<line x1="824.7" y1="209.87" x2="1075.2" y2="209.87" stroke="#c3cbd6" stroke-width="1" />
<text x="819.7" y="213.07" font-size="8.6" fill="#444" text-anchor="end">18</text>
<text x="819.7" y="197.5" font-size="8.6" fill="#444" text-anchor="end">20</text>
<text x="824.7" y="361.5" font-size="8.6" fill="#444" text-anchor="middle">0</text>
<text x="874.8" y="361.5" font-size="8.6" fill="#444" text-anchor="middle">10</text>
<text x="924.9" y="361.5" font-size="8.6" fill="#444" text-anchor="middle">20</text>
<text x="975" y="361.5" font-size="8.6" fill="#444" text-anchor="middle">30</text>
<text x="1025.1" y="361.5" font-size="8.6" fill="#444" text-anchor="middle">40</text>
<text x="1075.2" y="361.5" font-size="8.6" fill="#444" text-anchor="middle">50</text>
<text x="956" y="380" font-size="12.5" font-weight="bold" fill="#2d2d2f" text-anchor="middle" textLength="63" lengthAdjust="spacingAndGlyphs">Voltage(V)</text>
<text transform="translate(783.5,289) rotate(-90)" font-size="12.5" font-weight="bold" text-anchor="middle" fill="#2d2d2f" textLength="64" lengthAdjust="spacingAndGlyphs">Current (A)</text>
<g fill="none" stroke-width="1.1" stroke-linejoin="round"><path d="M824.7,206.4 L949.9,206.4 L968.1,206.5 L979.9,206.8 L985.8,207.1 L990.8,207.5 L995.2,208.1 L999.5,208.8 L1003.0,209.7 L1004.8,210.2 L1006.5,210.9 L1009.4,212.1 L1010.9,212.9 L1012.3,213.8 L1014.0,214.9 L1015.8,216.3 L1017.5,217.8 L1019.1,219.5 L1020.5,221.0 L1022.1,223.0 L1023.6,225.1 L1025.0,227.4 L1026.3,229.6 L1027.7,232.3 L1029.1,235.1 L1030.4,238.2 L1031.7,241.4 L1033.0,244.9 L1034.3,248.6 L1035.5,252.5 L1037.9,260.5 L1040.3,270.0 L1042.7,280.6 L1045.1,292.3 L1047.4,304.2 L1049.8,318.2 L1052.2,333.4 L1054.7,350.0" stroke="#3d4279"/><path d="M824.7,234.4 L950.5,234.4 L968.2,234.5 L979.7,234.8 L985.5,235.0 L990.5,235.4 L994.9,235.8 L999.1,236.4 L1002.5,237.1 L1005.7,238.0 L1008.6,239.0 L1011.6,240.4 L1013.2,241.3 L1014.9,242.4 L1016.6,243.6 L1018.3,244.9 L1019.6,246.2 L1021.2,247.8 L1022.6,249.5 L1024.1,251.4 L1025.3,253.1 L1026.7,255.2 L1028.0,257.5 L1029.3,260.0 L1030.6,262.6 L1031.8,265.4 L1033.0,268.4 L1034.3,271.6 L1036.5,278.0 L1038.8,285.6 L1041.1,294.1 L1043.3,303.5 L1045.4,313.2 L1047.7,324.4 L1049.9,336.7 L1052.2,350.0" stroke="#d5327e"/><path d="M824.7,263.2 L949.9,263.2 L967.5,263.3 L979.1,263.5 L984.9,263.7 L989.9,263.9 L994.2,264.3 L998.4,264.7 L1001.9,265.3 L1005.0,265.9 L1007.9,266.7 L1010.8,267.7 L1012.4,268.3 L1014.2,269.2 L1015.8,270.1 L1017.4,271.1 L1018.8,272.1 L1020.3,273.3 L1021.8,274.5 L1023.2,275.9 L1024.3,277.2 L1025.7,278.9 L1027.0,280.6 L1028.2,282.4 L1029.5,284.4 L1030.7,286.5 L1031.8,288.7 L1033.0,291.1 L1035.1,295.9 L1037.3,301.7 L1039.5,308.1 L1041.6,315.1 L1043.5,322.4 L1045.6,330.8 L1047.6,340.0 L1049.6,350.0" stroke="#26262a"/><path d="M824.7,293.6 L948.8,293.6 L966.5,293.6 L978.0,293.7 L988.8,294.0 L993.1,294.2 L997.3,294.6 L1000.8,294.9 L1003.9,295.3 L1006.8,295.8 L1009.7,296.5 L1013.0,297.4 L1016.2,298.7 L1019.0,300.1 L1020.4,300.9 L1021.8,301.8 L1024.3,303.7 L1025.5,304.9 L1026.7,306.1 L1029.1,308.7 L1031.3,311.7 L1033.3,314.8 L1035.4,318.6 L1037.4,322.7 L1039.4,327.3 L1041.1,332.0 L1043.0,337.5 L1044.8,343.5 L1046.6,350.0" stroke="#45a3d6"/><path d="M824.7,321.6 L942.6,321.6 L972.4,321.7 L983.0,321.8 L991.4,322.1 L998.2,322.5 L1003.8,323.1 L1007.1,323.6 L1010.2,324.3 L1013.0,325.0 L1015.7,325.9 L1018.0,326.8 L1020.4,328.0 L1022.5,329.3 L1024.7,330.8 L1026.6,332.4 L1028.5,334.3 L1030.3,336.3 L1032.1,338.6 L1033.7,340.9 L1035.4,343.7 L1037.0,346.7 L1038.6,350.0" stroke="#eeaa55"/></g>
<text x="838.5" y="214.5" font-size="8" fill="#333" textLength="39" lengthAdjust="spacingAndGlyphs">1000W/m²</text>
<text x="838.5" y="242.5" font-size="8" fill="#333" textLength="35" lengthAdjust="spacingAndGlyphs">800W/m²</text>
<text x="838.5" y="271.5" font-size="8" fill="#333" textLength="35" lengthAdjust="spacingAndGlyphs">600W/m²</text>
<text x="838.5" y="302.5" font-size="8" fill="#333" textLength="35" lengthAdjust="spacingAndGlyphs">400W/m²</text>
<text x="838.5" y="330" font-size="8" fill="#333" textLength="35" lengthAdjust="spacingAndGlyphs">200W/m²</text>
<rect x="824.7" y="194.3" width="250.5" height="155.7" fill="none" stroke="#5f636e" stroke-width="1.3"/>
<text x="949.45" y="404.9" font-size="16.6" fill="#3a84bf" text-anchor="middle" textLength="232" lengthAdjust="spacingAndGlyphs" stroke="#3a84bf" stroke-width="0.55">P-V CURVES OF PV MODULE(650W)</text>
<rect x="824.7" y="417.7" width="250.5" height="150" fill="#f5f8fc" />
<line x1="824.7" y1="546.271" x2="1075.2" y2="546.271" stroke="#c3cbd6" stroke-width="1" />
<text x="819.7" y="549.471" font-size="8.6" fill="#444" text-anchor="end">100</text>
<line x1="824.7" y1="524.843" x2="1075.2" y2="524.843" stroke="#c3cbd6" stroke-width="1" />
<text x="819.7" y="528.043" font-size="8.6" fill="#444" text-anchor="end">200</text>
<line x1="824.7" y1="503.414" x2="1075.2" y2="503.414" stroke="#c3cbd6" stroke-width="1" />
<text x="819.7" y="506.614" font-size="8.6" fill="#444" text-anchor="end">300</text>
<line x1="824.7" y1="481.986" x2="1075.2" y2="481.986" stroke="#c3cbd6" stroke-width="1" />
<text x="819.7" y="485.186" font-size="8.6" fill="#444" text-anchor="end">400</text>
<line x1="824.7" y1="460.557" x2="1075.2" y2="460.557" stroke="#c3cbd6" stroke-width="1" />
<text x="819.7" y="463.757" font-size="8.6" fill="#444" text-anchor="end">500</text>
<line x1="824.7" y1="439.129" x2="1075.2" y2="439.129" stroke="#c3cbd6" stroke-width="1" />
<text x="819.7" y="442.329" font-size="8.6" fill="#444" text-anchor="end">600</text>
<text x="819.7" y="420.9" font-size="8.6" fill="#444" text-anchor="end">700</text>
<text x="824.7" y="579" font-size="8.6" fill="#444" text-anchor="middle">0</text>
<text x="874.8" y="579" font-size="8.6" fill="#444" text-anchor="middle">10</text>
<text x="924.9" y="579" font-size="8.6" fill="#444" text-anchor="middle">20</text>
<text x="975" y="579" font-size="8.6" fill="#444" text-anchor="middle">30</text>
<text x="1025.1" y="579" font-size="8.6" fill="#444" text-anchor="middle">40</text>
<text x="1075.2" y="579" font-size="8.6" fill="#444" text-anchor="middle">50</text>
<text x="946.5" y="599.2" font-size="12.5" font-weight="bold" fill="#2d2d2f" text-anchor="middle" textLength="63" lengthAdjust="spacingAndGlyphs">Voltage(V)</text>
<text transform="translate(783.5,486) rotate(-90)" font-size="12.5" font-weight="bold" text-anchor="middle" fill="#2d2d2f" textLength="58" lengthAdjust="spacingAndGlyphs">Power (W)</text>
<g fill="none" stroke-width="1.1" stroke-linejoin="round"><path d="M824.7,567.7 L949.5,469.1 L967.6,454.9 L979.1,446.2 L985.2,441.7 L990.5,438.2 L995.1,435.3 L998.9,433.2 L1000.8,432.2 L1002.6,431.4 L1004.4,430.7 L1005.8,430.3 L1007.4,429.8 L1009.0,429.5 L1010.5,429.3 L1011.7,429.3 L1013.6,429.4 L1015.5,429.7 L1017.2,430.3 L1018.7,431.0 L1020.3,432.1 L1021.9,433.4 L1023.5,434.9 L1024.8,436.5 L1026.3,438.6 L1027.5,440.7 L1029.0,443.3 L1030.2,445.8 L1031.6,449.0 L1032.8,452.1 L1034.1,455.9 L1035.3,459.5 L1036.6,464.0 L1037.7,468.2 L1039.0,473.4 L1040.1,478.2 L1042.5,489.6 L1044.9,502.4 L1047.3,516.8 L1049.5,531.8 L1051.9,549.5 L1054.2,567.7" stroke="#3d4279"/><path d="M824.7,567.7 L948.8,488.7 L966.9,477.3 L978.4,470.3 L984.5,466.7 L989.8,463.8 L994.4,461.5 L998.1,459.8 L1001.9,458.4 L1005.0,457.5 L1006.7,457.1 L1008.2,456.9 L1009.7,456.7 L1010.9,456.7 L1012.8,456.8 L1014.6,457.1 L1016.3,457.6 L1017.8,458.1 L1019.4,459.0 L1021.0,460.0 L1022.5,461.3 L1023.8,462.6 L1025.2,464.3 L1026.5,465.9 L1027.9,468.1 L1029.0,470.1 L1030.4,472.7 L1031.5,475.2 L1032.8,478.2 L1033.9,481.1 L1035.2,484.7 L1036.3,488.1 L1037.5,492.3 L1038.6,496.1 L1040.8,505.3 L1043.1,515.6 L1045.3,527.1 L1047.4,539.0 L1049.6,553.2 L1051.7,567.7" stroke="#d5327e"/><path d="M824.7,567.7 L950.8,507.0 L967.9,498.9 L979.4,493.5 L985.4,490.9 L990.5,488.7 L995.0,487.0 L998.7,485.8 L1002.3,484.7 L1005.4,484.0 L1008.4,483.6 L1011.0,483.5 L1012.8,483.6 L1014.6,483.8 L1016.2,484.1 L1017.6,484.6 L1019.2,485.2 L1020.7,486.0 L1022.1,487.0 L1023.3,488.0 L1024.7,489.2 L1026.0,490.7 L1027.3,492.3 L1028.4,493.8 L1029.7,495.8 L1030.8,497.6 L1032.0,500.0 L1033.0,502.2 L1034.2,504.9 L1035.2,507.4 L1037.3,513.4 L1039.3,520.3 L1041.4,528.0 L1043.4,536.6 L1045.3,546.2 L1047.3,556.8 L1049.1,567.7" stroke="#26262a"/><path d="M824.7,567.7 L957.1,526.7 L973.1,521.8 L983.6,518.7 L993.7,515.8 L997.9,514.8 L1001.4,514.0 L1004.7,513.4 L1007.5,513.0 L1010.1,512.7 L1012.5,512.6 L1014.1,512.7 L1015.7,512.8 L1017.2,513.0 L1018.6,513.3 L1020.0,513.7 L1021.3,514.2 L1022.6,514.8 L1023.6,515.4 L1024.8,516.2 L1026.0,517.1 L1027.1,518.1 L1028.2,519.2 L1029.3,520.4 L1030.4,521.7 L1032.3,524.5 L1033.3,526.2 L1034.2,528.1 L1036.1,532.1 L1038.0,536.8 L1039.6,541.7 L1041.4,547.5 L1043.0,553.6 L1044.6,560.3 L1046.1,567.7" stroke="#45a3d6"/><path d="M824.7,567.7 L963.7,544.7 L988.0,540.7 L997.5,539.2 L1004.2,538.4 L1009.6,537.9 L1014.0,537.7 L1017.0,537.8 L1019.6,538.1 L1022.0,538.5 L1024.1,539.2 L1026.3,540.1 L1028.2,541.2 L1030.0,542.6 L1031.7,544.2 L1033.3,546.0 L1034.8,548.1 L1036.3,550.6 L1037.8,553.3 L1039.2,556.4 L1040.5,559.8 L1041.8,563.5 L1043.1,567.7" stroke="#eeaa55"/></g>
<text x="986" y="448.5" font-size="8" fill="#333" textLength="39" lengthAdjust="spacingAndGlyphs">1000W/m²</text>
<text x="988.5" y="475.5" font-size="8" fill="#333" textLength="35" lengthAdjust="spacingAndGlyphs">800W/m²</text>
<text x="988.5" y="501.5" font-size="8" fill="#333" textLength="35" lengthAdjust="spacingAndGlyphs">600W/m²</text>
<text x="988.5" y="527.5" font-size="8" fill="#333" textLength="35" lengthAdjust="spacingAndGlyphs">400W/m²</text>
<text x="988.5" y="552" font-size="8" fill="#333" textLength="35" lengthAdjust="spacingAndGlyphs">200W/m²</text>
<rect x="824.7" y="417.7" width="250.5" height="150" fill="none" stroke="#5f636e" stroke-width="1.3"/>
<text x="949.45" y="626.4" font-size="16.6" fill="#3a84bf" text-anchor="middle" textLength="230" lengthAdjust="spacingAndGlyphs" stroke="#3a84bf" stroke-width="0.55">I-V CURVES OF PV MODULE(650 W)</text>
<rect x="824.7" y="639.3" width="250.5" height="155" fill="#f5f8fc" />
<line x1="824.7" y1="778.8" x2="1075.2" y2="778.8" stroke="#c3cbd6" stroke-width="1" />
<text x="819.7" y="782" font-size="8.6" fill="#444" text-anchor="end">2</text>
<line x1="824.7" y1="763.3" x2="1075.2" y2="763.3" stroke="#c3cbd6" stroke-width="1" />
<text x="819.7" y="766.5" font-size="8.6" fill="#444" text-anchor="end">4</text>
<line x1="824.7" y1="747.8" x2="1075.2" y2="747.8" stroke="#c3cbd6" stroke-width="1" />
<text x="819.7" y="751" font-size="8.6" fill="#444" text-anchor="end">6</text>
<line x1="824.7" y1="732.3" x2="1075.2" y2="732.3" stroke="#c3cbd6" stroke-width="1" />
<text x="819.7" y="735.5" font-size="8.6" fill="#444" text-anchor="end">8</text>
<line x1="824.7" y1="716.8" x2="1075.2" y2="716.8" stroke="#c3cbd6" stroke-width="1" />
<text x="819.7" y="720" font-size="8.6" fill="#444" text-anchor="end">10</text>
<line x1="824.7" y1="701.3" x2="1075.2" y2="701.3" stroke="#c3cbd6" stroke-width="1" />
<text x="819.7" y="704.5" font-size="8.6" fill="#444" text-anchor="end">12</text>
<line x1="824.7" y1="685.8" x2="1075.2" y2="685.8" stroke="#c3cbd6" stroke-width="1" />
<text x="819.7" y="689" font-size="8.6" fill="#444" text-anchor="end">14</text>
<line x1="824.7" y1="670.3" x2="1075.2" y2="670.3" stroke="#c3cbd6" stroke-width="1" />
<text x="819.7" y="673.5" font-size="8.6" fill="#444" text-anchor="end">16</text>
<line x1="824.7" y1="654.8" x2="1075.2" y2="654.8" stroke="#c3cbd6" stroke-width="1" />
<text x="819.7" y="658" font-size="8.6" fill="#444" text-anchor="end">18</text>
<text x="819.7" y="642.5" font-size="8.6" fill="#444" text-anchor="end">20</text>
<text x="824.7" y="806" font-size="8.6" fill="#444" text-anchor="middle">0</text>
<text x="874.8" y="806" font-size="8.6" fill="#444" text-anchor="middle">10</text>
<text x="924.9" y="806" font-size="8.6" fill="#444" text-anchor="middle">20</text>
<text x="975" y="806" font-size="8.6" fill="#444" text-anchor="middle">30</text>
<text x="1025.1" y="806" font-size="8.6" fill="#444" text-anchor="middle">40</text>
<text x="1075.2" y="806" font-size="8.6" fill="#444" text-anchor="middle">50</text>
<text x="946.5" y="821.6" font-size="12.5" font-weight="bold" fill="#2d2d2f" text-anchor="middle" textLength="63" lengthAdjust="spacingAndGlyphs">Voltage(V)</text>
<text transform="translate(783.5,733) rotate(-90)" font-size="12.5" font-weight="bold" text-anchor="middle" fill="#2d2d2f" textLength="64" lengthAdjust="spacingAndGlyphs">Current (A)</text>
<g fill="none" stroke-width="1.1" stroke-linejoin="round"><path d="M824.7,652.9 L961.9,652.9 L975.7,652.9 L984.0,653.0 L988.4,653.2 L992.3,653.4 L995.7,653.8 L998.6,654.3 L1001.0,654.8 L1003.4,655.6 L1005.6,656.5 L1007.6,657.6 L1009.0,658.5 L1010.4,659.6 L1011.7,660.8 L1013.1,662.3 L1014.4,663.7 L1015.7,665.5 L1016.9,667.3 L1018.2,669.5 L1019.4,671.6 L1020.6,673.9 L1021.7,676.4 L1023.0,679.4 L1025.5,685.8 L1028.1,693.1 L1030.7,701.4 L1033.4,710.8 L1036.2,721.3 L1039.1,733.0 L1042.2,746.0 L1045.4,760.3 L1048.8,776.1 L1052.7,794.3" stroke="#3b4a8e"/><path d="M824.7,652.1 L952.6,652.1 L965.8,652.1 L974.3,652.3 L978.5,652.5 L982.3,652.7 L985.6,653.1 L988.5,653.6 L991.1,654.2 L993.4,655.0 L995.5,656.0 L997.5,657.2 L998.9,658.2 L1000.2,659.3 L1001.5,660.5 L1002.9,662.1 L1004.2,663.6 L1005.4,665.3 L1006.6,667.1 L1007.9,669.3 L1009.1,671.5 L1010.2,673.9 L1011.4,676.4 L1012.7,679.5 L1015.2,686.0 L1017.8,693.4 L1020.2,701.4 L1022.9,710.9 L1025.8,721.5 L1028.7,733.4 L1031.8,746.5 L1035.1,761.0 L1038.5,776.9 L1042.1,794.3" stroke="#cf2f7d"/><path d="M824.7,651.3 L943.3,651.3 L956.5,651.4 L964.5,651.5 L968.6,651.7 L972.3,652.0 L975.5,652.4 L978.3,652.9 L980.8,653.6 L983.1,654.5 L985.3,655.5 L987.2,656.7 L988.6,657.7 L989.9,658.9 L991.2,660.1 L992.6,661.7 L993.8,663.3 L995.0,665.0 L996.2,666.9 L997.6,669.2 L998.7,671.4 L999.9,673.8 L1001.1,676.4 L1002.4,679.6 L1004.7,685.8 L1007.3,693.4 L1009.8,701.4 L1012.5,711.0 L1015.3,721.8 L1018.3,733.8 L1021.3,746.3 L1024.5,760.8 L1028.0,776.8 L1031.6,794.3" stroke="#a4abb3"/><path d="M824.7,650.5 L933.9,650.6 L946.1,650.6 L953.8,650.8 L958.0,651.0 L961.6,651.3 L964.7,651.8 L967.4,652.3 L969.9,653.1 L972.1,654.0 L974.2,655.0 L976.1,656.3 L977.5,657.4 L978.8,658.6 L980.1,659.9 L981.3,661.4 L982.5,663.0 L983.7,664.8 L984.9,666.7 L986.2,669.1 L987.4,671.3 L988.6,673.8 L990.9,679.3 L993.3,685.6 L995.8,693.3 L998.3,701.5 L1001.1,711.2 L1003.8,721.4 L1006.7,733.5 L1009.7,746.0 L1013.0,760.7 L1016.4,776.7 L1020.1,794.3" stroke="#2f8ed0"/><path d="M824.7,649.8 L924.1,649.8 L935.8,649.9 L943.7,650.1 L947.8,650.3 L951.3,650.6 L954.3,651.1 L957.0,651.7 L959.4,652.5 L961.6,653.4 L963.6,654.5 L965.7,656.0 L967.1,657.1 L968.4,658.3 L969.6,659.7 L970.9,661.3 L972.1,662.9 L973.3,664.8 L974.5,666.8 L975.6,668.9 L976.8,671.3 L978.0,673.8 L980.3,679.4 L982.7,685.9 L985.3,693.7 L987.8,702.0 L990.4,711.4 L993.1,721.7 L996.1,733.9 L999.1,746.6 L1002.4,761.4 L1005.6,776.6 L1009.3,794.3" stroke="#f0a132"/></g>
<line x1="835" y1="706.5" x2="853" y2="706.5" stroke="#3b4a8e" stroke-width="0.9" />
<text x="855" y="710.5" font-size="8" fill="#555" textLength="59" lengthAdjust="spacingAndGlyphs">Cell temp.=10°C</text>
<line x1="835" y1="723" x2="853" y2="723" stroke="#cf2f7d" stroke-width="0.9" />
<text x="855" y="727" font-size="8" fill="#555" textLength="59" lengthAdjust="spacingAndGlyphs">Cell temp.=25°C</text>
<line x1="835" y1="739.5" x2="853" y2="739.5" stroke="#a4abb3" stroke-width="0.9" />
<text x="855" y="743.5" font-size="8" fill="#555" textLength="59" lengthAdjust="spacingAndGlyphs">Cell temp.=40°C</text>
<line x1="835" y1="756" x2="853" y2="756" stroke="#2f8ed0" stroke-width="0.9" />
<text x="855" y="760" font-size="8" fill="#555" textLength="59" lengthAdjust="spacingAndGlyphs">Cell temp.=55°C</text>
<line x1="835" y1="772.5" x2="853" y2="772.5" stroke="#f0a132" stroke-width="0.9" />
<text x="855" y="776.5" font-size="8" fill="#555" textLength="59" lengthAdjust="spacingAndGlyphs">Cell temp.=70°C</text>
<rect x="824.7" y="639.3" width="250.5" height="155" fill="none" stroke="#5f636e" stroke-width="1.3"/>
<text x="71.3" y="874.8" font-size="12.5" font-weight="bold" fill="#2a84c6" textLength="135" lengthAdjust="spacingAndGlyphs">ELECTRICAL DATA (STC)</text>
<rect x="71" y="968.66" width="518.5" height="42.43" fill="#e4ecf7" />
<rect x="71" y="1053.52" width="518.5" height="42.43" fill="#e4ecf7" />
<rect x="71" y="1138.38" width="518.5" height="42.43" fill="#e4ecf7" />
<line x1="71" y1="883.8" x2="589.5" y2="883.8" stroke="#a9c6e6" stroke-width="1" />
<line x1="71" y1="928.8" x2="589.5" y2="928.8" stroke="#a9c6e6" stroke-width="1" />
<line x1="71" y1="1181.2" x2="589.5" y2="1181.2" stroke="#a9c6e6" stroke-width="1" />
<text x="77.5" y="908.3" textLength="146.7" lengthAdjust="spacingAndGlyphs">Peak Power Watts-P<tspan font-size="8.5">MAX</tspan> (Wp)*</text>
<text x="295.7" y="908.3" text-anchor="middle">645</text>
<text x="349.4" y="908.3" text-anchor="middle">650</text>
<text x="402.9" y="908.3" text-anchor="middle">655</text>
<text x="456.5" y="908.3" text-anchor="middle">660</text>
<text x="509.8" y="908.3" text-anchor="middle">665</text>
<text x="563.8" y="908.3" text-anchor="middle">670</text>
<text x="77.5" y="950.73" textLength="130" lengthAdjust="spacingAndGlyphs">Power Tolerance-P<tspan font-size="8.5">MAX</tspan> (W)</text>
<text x="418.4" y="950.73" text-anchor="middle">0 ~ +5</text>
<text x="77.5" y="993.16" textLength="167" lengthAdjust="spacingAndGlyphs">Maximum Power Voltage-V<tspan font-size="8.5">MPP</tspan> (V)</text>
<text x="295.7" y="993.16" text-anchor="middle">37.2</text>
<text x="349.4" y="993.16" text-anchor="middle">37.4</text>
<text x="402.9" y="993.16" text-anchor="middle">37.6</text>
<text x="456.5" y="993.16" text-anchor="middle">37.8</text>
<text x="509.8" y="993.16" text-anchor="middle">38.0</text>
<text x="563.8" y="993.16" text-anchor="middle">38.2</text>
<text x="77.5" y="1035.59" textLength="161.5" lengthAdjust="spacingAndGlyphs">Maximum Power Current-I<tspan font-size="8.5">MPP</tspan> (A)</text>
<text x="295.7" y="1035.59" text-anchor="middle">17.35</text>
<text x="349.4" y="1035.59" text-anchor="middle">17.39</text>
<text x="402.9" y="1035.59" text-anchor="middle">17.43</text>
<text x="456.5" y="1035.59" text-anchor="middle">17.47</text>
<text x="509.8" y="1035.59" text-anchor="middle">17.51</text>
<text x="563.8" y="1035.59" text-anchor="middle">17.55</text>
<text x="77.5" y="1078.02" textLength="138" lengthAdjust="spacingAndGlyphs">Open Circuit Voltage-V<tspan font-size="8.5">OC</tspan> (V)</text>
<text x="295.7" y="1078.02" text-anchor="middle">45.1</text>
<text x="349.4" y="1078.02" text-anchor="middle">45.3</text>
<text x="402.9" y="1078.02" text-anchor="middle">45.5</text>
<text x="456.5" y="1078.02" text-anchor="middle">45.7</text>
<text x="509.8" y="1078.02" text-anchor="middle">45.9</text>
<text x="563.8" y="1078.02" text-anchor="middle">46.1</text>
<text x="77.5" y="1120.45" textLength="133" lengthAdjust="spacingAndGlyphs">Short Circuit Current-I<tspan font-size="8.5">SC</tspan> (A)</text>
<text x="295.7" y="1120.45" text-anchor="middle">18.39</text>
<text x="349.4" y="1120.45" text-anchor="middle">18.44</text>
<text x="402.9" y="1120.45" text-anchor="middle">18.48</text>
<text x="456.5" y="1120.45" text-anchor="middle">18.53</text>
<text x="509.8" y="1120.45" text-anchor="middle">18.57</text>
<text x="563.8" y="1120.45" text-anchor="middle">18.62</text>
<text x="77.5" y="1162.88" textLength="126" lengthAdjust="spacingAndGlyphs">Module Efficiency <tspan font-size="7">η</tspan> m (%)</text>
<text x="295.7" y="1162.88" text-anchor="middle">20.8</text>
<text x="349.4" y="1162.88" text-anchor="middle">20.9</text>
<text x="402.9" y="1162.88" text-anchor="middle">21.1</text>
<text x="456.5" y="1162.88" text-anchor="middle">21.2</text>
<text x="509.8" y="1162.88" text-anchor="middle">21.4</text>
<text x="563.8" y="1162.88" text-anchor="middle">21.6</text>
<text x="77" y="1194" font-size="8" textLength="342" lengthAdjust="spacingAndGlyphs">STC: Irrdiance 1000W/m2, Cell Temperature 25°C, Air Mass AM1.5.   *Measuring tolerance: ±3%.</text>
<text x="71.3" y="1228.2" font-size="12.5" font-weight="bold" fill="#2a84c6" textLength="145" lengthAdjust="spacingAndGlyphs">ELECTRICAL DATA (NOCT)</text>
<rect x="71" y="1327.1" width="518.5" height="45.8" fill="#e4ecf7" />
<rect x="71" y="1418.7" width="518.5" height="45.8" fill="#e4ecf7" />
<line x1="71" y1="1235.5" x2="589.5" y2="1235.5" stroke="#a9c6e6" stroke-width="1" />
<line x1="71" y1="1282" x2="589.5" y2="1282" stroke="#a9c6e6" stroke-width="1" />
<line x1="71" y1="1464.6" x2="589.5" y2="1464.6" stroke="#a9c6e6" stroke-width="1" />
<text x="77.5" y="1262.7" textLength="134.5" lengthAdjust="spacingAndGlyphs">Maximum Power-P<tspan font-size="8.5">MAX</tspan> (Wp)</text>
<text x="295.7" y="1262.7" text-anchor="middle">488</text>
<text x="349.4" y="1262.7" text-anchor="middle">492</text>
<text x="402.9" y="1262.7" text-anchor="middle">496</text>
<text x="456.5" y="1262.7" text-anchor="middle">500</text>
<text x="509.8" y="1262.7" text-anchor="middle">504</text>
<text x="563.8" y="1262.7" text-anchor="middle">508</text>
<text x="77.5" y="1308.25" textLength="167" lengthAdjust="spacingAndGlyphs">Maximum Power Voltage-V<tspan font-size="8.5">MPP</tspan> (V)</text>
<text x="295.7" y="1308.25" text-anchor="middle">34.8</text>
<text x="349.4" y="1308.25" text-anchor="middle">34.9</text>
<text x="402.9" y="1308.25" text-anchor="middle">35.1</text>
<text x="456.5" y="1308.25" text-anchor="middle">35.3</text>
<text x="509.8" y="1308.25" text-anchor="middle">35.4</text>
<text x="563.8" y="1308.25" text-anchor="middle">35.6</text>
<text x="77.5" y="1353.8" textLength="161.5" lengthAdjust="spacingAndGlyphs">Maximum Power Current-I<tspan font-size="8.5">MPP</tspan> (A)</text>
<text x="295.7" y="1353.8" text-anchor="middle">14.05</text>
<text x="349.4" y="1353.8" text-anchor="middle">14.09</text>
<text x="402.9" y="1353.8" text-anchor="middle">14.13</text>
<text x="456.5" y="1353.8" text-anchor="middle">14.17</text>
<text x="509.8" y="1353.8" text-anchor="middle">14.22</text>
<text x="563.8" y="1353.8" text-anchor="middle">14.26</text>
<text x="77.5" y="1399.35" textLength="138" lengthAdjust="spacingAndGlyphs">Open Circuit Voltage-V<tspan font-size="8.5">OC</tspan> (V)</text>
<text x="295.7" y="1399.35" text-anchor="middle">42.5</text>
<text x="349.4" y="1399.35" text-anchor="middle">42.7</text>
<text x="402.9" y="1399.35" text-anchor="middle">42.9</text>
<text x="456.5" y="1399.35" text-anchor="middle">43.0</text>
<text x="509.8" y="1399.35" text-anchor="middle">43.2</text>
<text x="563.8" y="1399.35" text-anchor="middle">43.4</text>
<text x="77.5" y="1444.9" textLength="133" lengthAdjust="spacingAndGlyphs">Short Circuit Current-I<tspan font-size="8.5">SC</tspan> (A)</text>
<text x="295.7" y="1444.9" text-anchor="middle">14.82</text>
<text x="349.4" y="1444.9" text-anchor="middle">14.86</text>
<text x="402.9" y="1444.9" text-anchor="middle">14.89</text>
<text x="456.5" y="1444.9" text-anchor="middle">14.93</text>
<text x="509.8" y="1444.9" text-anchor="middle">14.96</text>
<text x="563.8" y="1444.9" text-anchor="middle">15.01</text>
<text x="77" y="1479.6" font-size="8" textLength="276" lengthAdjust="spacingAndGlyphs">NOCT: Irradiance at 800W/m², Ambient Temperature 20°C, Wind Speed 1m/s.</text>
<text x="622.4" y="874.8" font-size="12.5" font-weight="bold" fill="#2a84c6" textLength="108.6" lengthAdjust="spacingAndGlyphs">MECHANICAL DATA</text>
<rect x="621" y="928.7" width="519" height="22.6" fill="#e4ecf7" />
<rect x="621" y="973.9" width="519" height="22.6" fill="#e4ecf7" />
<rect x="621" y="1019.1" width="519" height="22.6" fill="#e4ecf7" />
<rect x="621" y="1064.3" width="519" height="22.6" fill="#e4ecf7" />
<rect x="621" y="1155" width="519" height="26.2" fill="#e4ecf7" />
<line x1="621" y1="883.5" x2="1140" y2="883.5" stroke="#8fb8e0" stroke-width="1" />
<line x1="621" y1="906" x2="1140" y2="906" stroke="#8fb8e0" stroke-width="1" />
<line x1="621" y1="1181.2" x2="1140" y2="1181.2" stroke="#a9c6e6" stroke-width="1" />
<line x1="784.3" y1="883.5" x2="784.3" y2="1181.2" stroke="#6fa8dc" stroke-width="1" />
<text x="632" y="899.5" textLength="53" lengthAdjust="spacingAndGlyphs">Solar Cells</text>
<text x="793.5" y="899.5" textLength="77.5" lengthAdjust="spacingAndGlyphs">Monocrystalline</text>
<text x="632" y="921.95" textLength="52" lengthAdjust="spacingAndGlyphs">No. of cells</text>
<text x="793.5" y="921.95" textLength="43" lengthAdjust="spacingAndGlyphs">132 cells</text>
<text x="632" y="944.4" textLength="95" lengthAdjust="spacingAndGlyphs">Module Dimensions</text>
<text x="793.5" y="944.4" textLength="240" lengthAdjust="spacingAndGlyphs">2384×1303×35 mm (93.86×51.30×1.38 inches)</text>
<text x="632" y="966.85" textLength="35" lengthAdjust="spacingAndGlyphs">Weight</text>
<text x="793.5" y="966.85" textLength="78" lengthAdjust="spacingAndGlyphs">33.6 kg (74.1 lb)</text>
<text x="632" y="989.3" textLength="25" lengthAdjust="spacingAndGlyphs">Glass</text>
<text x="632" y="1011.75" textLength="103" lengthAdjust="spacingAndGlyphs">Encapsulant material</text>
<text x="793.5" y="1011.75" textLength="20" lengthAdjust="spacingAndGlyphs">EVA</text>
<text x="632" y="1034.2" textLength="51.5" lengthAdjust="spacingAndGlyphs">Backsheet</text>
<text x="793.5" y="1034.2" textLength="29" lengthAdjust="spacingAndGlyphs">White</text>
<text x="632" y="1056.65" textLength="32" lengthAdjust="spacingAndGlyphs">Frame</text>
<text x="793.5" y="1056.65" textLength="229" lengthAdjust="spacingAndGlyphs">35mm(1.38 inches)  Anodized  Aluminium Alloy</text>
<text x="632" y="1079.1" textLength="26" lengthAdjust="spacingAndGlyphs">J-Box</text>
<text x="793.5" y="1079.1" textLength="53.5" lengthAdjust="spacingAndGlyphs">IP 68 rated</text>
<text x="793.5" y="989.3" textLength="103.5" lengthAdjust="spacingAndGlyphs">3.2 mm (0.13 inches),</text>
<text x="900" y="989.3" font-size="8" textLength="198" lengthAdjust="spacingAndGlyphs">High Transmission, AR Coated Heat Strengthened Glass</text>
<text x="632" y="1106.7" textLength="32.5" lengthAdjust="spacingAndGlyphs">Cables</text>
<text x="793.5" y="1106.7" textLength="275" lengthAdjust="spacingAndGlyphs">Photovoltaic Technology Cable 4.0mm² (0.006 inches²),</text>
<text x="793.5" y="1126.8" textLength="210" lengthAdjust="spacingAndGlyphs">Portrait: 280/280 mm (11.02/11.02 inches)</text>
<text x="793.5" y="1144.6" textLength="128" lengthAdjust="spacingAndGlyphs">Length can be customized</text>
<text x="632" y="1173.4" textLength="50.5" lengthAdjust="spacingAndGlyphs">Connector</text>
<text x="793.5" y="1173.4" textLength="85" lengthAdjust="spacingAndGlyphs">MC4 EVO2 / TS4*</text>
<text x="632" y="1192" font-size="8" textLength="211" lengthAdjust="spacingAndGlyphs">*Please refer to regional datasheet for specified connector.</text>
<text x="622.8" y="1227.6" font-size="12.5" font-weight="bold" fill="#2a84c6" textLength="138.8" lengthAdjust="spacingAndGlyphs">TEMPERATURE RATINGS</text>
<line x1="622" y1="1236" x2="872.5" y2="1236" stroke="#a9c6e6" stroke-width="1" />
<line x1="622" y1="1325.6" x2="872.5" y2="1325.6" stroke="#a9c6e6" stroke-width="1" />
<text x="629" y="1251" textLength="25.5" lengthAdjust="spacingAndGlyphs">NOCT</text>
<text x="656.5" y="1251" font-size="7.5" textLength="128.5" lengthAdjust="spacingAndGlyphs">(Nominal Operating Cell Temperature)</text>
<text x="629" y="1272.6" textLength="158.2" lengthAdjust="spacingAndGlyphs">Temperature Coefficient of P<tspan font-size="8.5">MAX</tspan></text>
<text x="629" y="1294.8" textLength="152" lengthAdjust="spacingAndGlyphs">Temperature Coefficient of V<tspan font-size="8.5">OC</tspan></text>
<text x="629" y="1317" textLength="146.5" lengthAdjust="spacingAndGlyphs">Temperature Coefficient of I<tspan font-size="8.5">SC</tspan></text>
<text x="803.7" y="1251" textLength="58.5" lengthAdjust="spacingAndGlyphs">43°C (±2°C)</text>
<text x="803.7" y="1272.6" textLength="56" lengthAdjust="spacingAndGlyphs">- 0.34%/°C</text>
<text x="803.7" y="1294.8" textLength="56" lengthAdjust="spacingAndGlyphs">- 0.25%/°C</text>
<text x="803.7" y="1317" textLength="50" lengthAdjust="spacingAndGlyphs">0.04%/°C</text>
<text x="891" y="1227.6" font-size="12.5" font-weight="bold" fill="#2a84c6" textLength="108.5" lengthAdjust="spacingAndGlyphs">MAXIMUMRATINGS</text>
<line x1="889.8" y1="1236" x2="1140" y2="1236" stroke="#a9c6e6" stroke-width="1" />
<line x1="889.8" y1="1325.6" x2="1140" y2="1325.6" stroke="#a9c6e6" stroke-width="1" />
<text x="896" y="1251" textLength="125.8" lengthAdjust="spacingAndGlyphs">Operational Temperature</text>
<text x="896" y="1272.6" textLength="128" lengthAdjust="spacingAndGlyphs">Maximum System Voltage</text>
<text x="896" y="1317" textLength="113.5" lengthAdjust="spacingAndGlyphs">Max Series Fuse Rating</text>
<text x="1041" y="1251" textLength="57" lengthAdjust="spacingAndGlyphs">-40~+85°C</text>
<text x="1041" y="1272.6" textLength="73" lengthAdjust="spacingAndGlyphs">1500V DC (IEC)</text>
<text x="1041" y="1294.8" textLength="71" lengthAdjust="spacingAndGlyphs">1500V DC (UL)</text>
<text x="1041" y="1317" textLength="20" lengthAdjust="spacingAndGlyphs">30A</text>
<text x="622.8" y="1369" font-size="12.5" font-weight="bold" fill="#2a84c6" textLength="66" lengthAdjust="spacingAndGlyphs">WARRANTY</text>
<line x1="622" y1="1375.3" x2="872.5" y2="1375.3" stroke="#a9c6e6" stroke-width="1" />
<line x1="622" y1="1465.6" x2="872.5" y2="1465.6" stroke="#a9c6e6" stroke-width="1" />
<text x="628.7" y="1390.5" textLength="194.8" lengthAdjust="spacingAndGlyphs">12 year Product Workmanship Warranty</text>
<text x="628.7" y="1413" textLength="118" lengthAdjust="spacingAndGlyphs">25 year Power Warranty</text>
<text x="628.7" y="1435.3" textLength="126.5" lengthAdjust="spacingAndGlyphs">2% first year degradation</text>
<text x="628.7" y="1457.5" textLength="166.5" lengthAdjust="spacingAndGlyphs">0.55% Annual Power Attenuation</text>
<text x="628.2" y="1479.9" font-size="8" textLength="159.6" lengthAdjust="spacingAndGlyphs">(Please refer to product warranty for details)</text>
<text x="891" y="1369" font-size="12.5" font-weight="bold" fill="#2a84c6" textLength="170.5" lengthAdjust="spacingAndGlyphs">PACKAGING CONFIGUREATION</text>
<line x1="889.8" y1="1375.3" x2="1140" y2="1375.3" stroke="#a9c6e6" stroke-width="1" />
<line x1="889.8" y1="1424.8" x2="1140" y2="1424.8" stroke="#a9c6e6" stroke-width="1" />
<text x="896" y="1390.5" textLength="132" lengthAdjust="spacingAndGlyphs">Modules per box: 31 pieces</text>
<text x="896" y="1413" textLength="188.3" lengthAdjust="spacingAndGlyphs">Modules per 40' container:  558 pieces</text>
<rect x="0" y="1500" width="1200" height="183" fill="#e9f0f9" />
<g fill="#1b81c8" fill-rule="evenodd"><path d="M78.2,1563.1 H107 Q110.6,1563.1 110.6,1566.6 V1572.6 H98.1 V1606.3 H87.5 V1572.6 H78.2 Q73.1,1572.6 73.1,1567.8 Q73.1,1563.1 78.2,1563.1 Z"/><path d="M101.9,1576.9 H119.4 V1585 H114.7 Q112.3,1585 112.3,1587.6 V1606.3 H101.9 Z"/><rect x="123.1" y="1576.9" width="10.6" height="29.4"/><path d="M137.3,1576.9 H157.2 Q165,1576.9 165,1585 V1606.3 H154.5 V1588.2 Q154.5,1585.6 152,1585.6 H147.6 V1606.3 H137.3 Z"/><path d="M168.7,1576.9 H185.2 Q193.1,1576.9 193.1,1585 V1606.3 H173.2 Q166.9,1606.3 166.9,1600.2 V1595.6 Q166.9,1589.6 173.2,1589.6 H182.7 V1587.2 Q182.7,1585 180.4,1585 H168.7 Z M177.3,1594.8 H182.7 V1600.6 H177.3 Q175.7,1600.6 175.7,1599 V1596.4 Q175.7,1594.8 177.3,1594.8 Z"/></g>
<circle cx="127.9" cy="1563.8" r="8.4" fill="#e8342b"/>
<g fill="none" stroke="#1b81c8" stroke-width="3.5"><path d="M212.6,1580.4 C209,1578.6 205.5,1578.2 202.5,1578.3 C198.2,1578.6 197.2,1581.8 197.2,1584.6 C197.2,1588.4 200,1589.9 204.6,1591.2 C209.6,1592.6 212.7,1594.2 212.7,1598.3 C212.7,1602.6 209.5,1604.8 204.5,1604.8 C201,1604.8 198,1604 195.8,1602.6"/><path d="M228.2,1578.3 C236.5,1578.3 238.7,1583.5 238.7,1591.5 C238.7,1599.5 236.5,1604.8 228.2,1604.8 C220,1604.8 217.8,1599.5 217.8,1591.5 C217.8,1583.5 220,1578.3 228.2,1578.3 Z"/><path d="M245.5,1565 V1606.3"/><path d="M253.2,1581 C256,1579.2 259.5,1578.3 262.2,1578.3 C267.6,1578.3 270.2,1581.4 270.2,1586.5 V1606.3 M270.2,1590.6 H259.6 C254.6,1590.6 251.8,1593.2 251.8,1597.7 C251.8,1602.2 254.6,1604.8 259.2,1604.8 C263,1604.8 267,1603.6 270.2,1602.2"/><path d="M277.8,1577 V1606.3 M277.8,1586.2 C281,1581.5 285,1578.8 290,1578.5"/></g>
<text x="367.3" y="1565" font-size="13" textLength="506.7" lengthAdjust="spacingAndGlyphs">CAUTION: READ SAFETY AND INSTALLATION INSTRUCTIONS BEFORE USING THE PRODUCT.</text>
<text x="367.3" y="1585.7" font-size="13" textLength="695.4" lengthAdjust="spacingAndGlyphs">© 2021 Trina Solar Co.,Ltd. All rights reserved. Specifications included in this datasheet are subject to change without notice.</text>
<text x="367.3" y="1606.2" font-size="13" textLength="194" lengthAdjust="spacingAndGlyphs">Version number: TSM_EN_2021_A</text>
</svg>
</body>
</html>
